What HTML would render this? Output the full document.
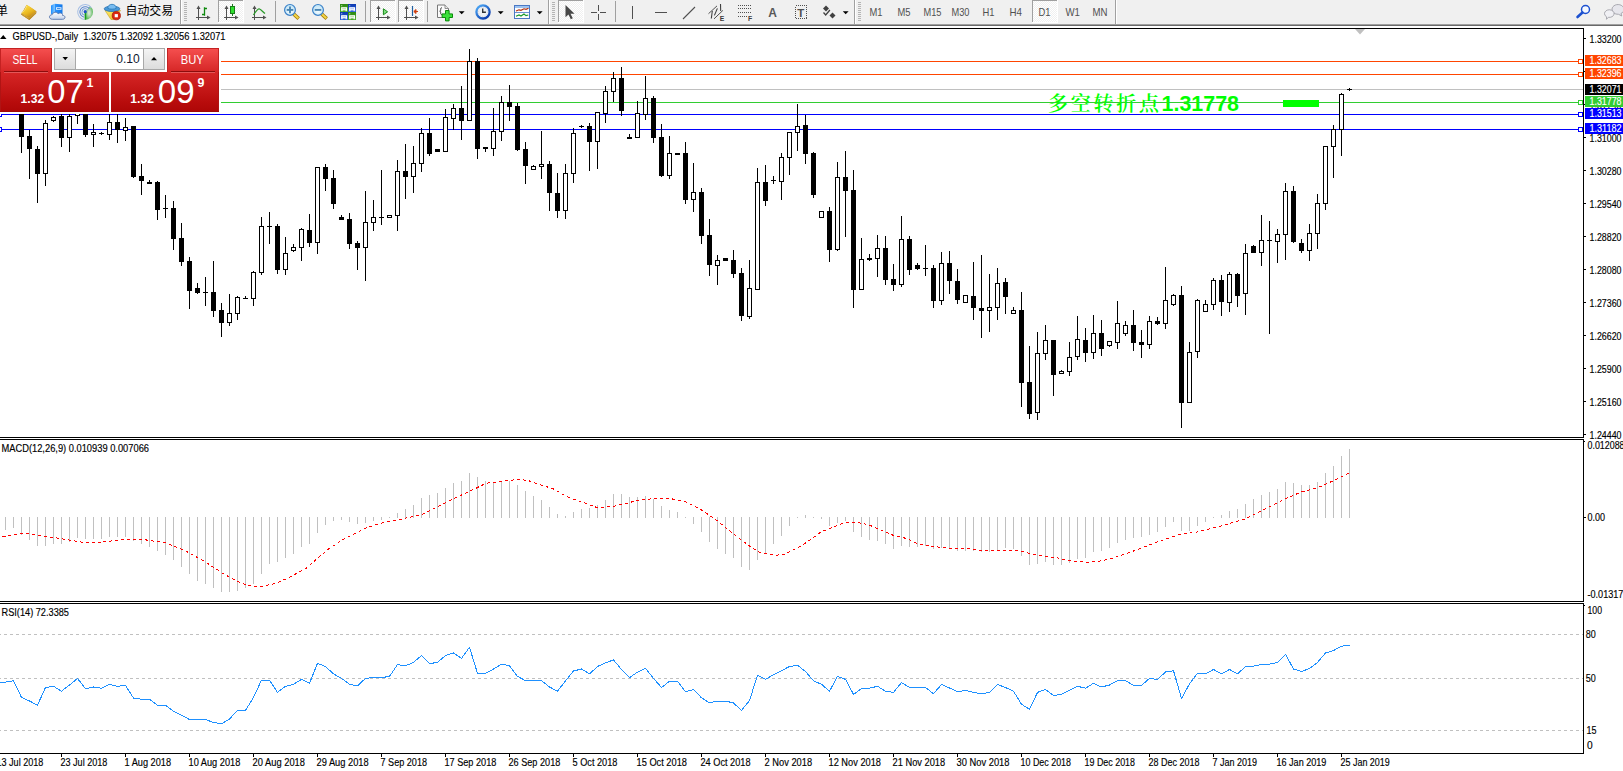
<!DOCTYPE html>
<html lang="zh"><head><meta charset="utf-8"><title>GBPUSD Daily</title>
<style>html,body{margin:0;padding:0;background:#fff;overflow:hidden}body{width:1623px;height:771px}svg{display:block}text{font-family:"Liberation Sans","Noto Sans CJK SC",sans-serif}</style></head>
<body><svg width="1623" height="771" viewBox="0 0 1623 771">
<rect x="0" y="0" width="1623" height="771" fill="#fff"/>
<g shape-rendering="crispEdges">
<rect x="0" y="61" width="1583" height="1" fill="#ff4500"/>
<rect x="0" y="74" width="1583" height="1" fill="#ff4500"/>
<rect x="0" y="89" width="1583" height="1" fill="#c0c0c0"/>
<rect x="0" y="102" width="1583" height="1" fill="#32cd32"/>
<rect x="0" y="114" width="1583" height="1" fill="#0000ff"/>
<rect x="0" y="129" width="1583" height="1" fill="#0000ff"/>
<rect x="1283" y="100" width="36" height="7" fill="#00ff00"/>
<rect x="21" y="137" width="1" height="16" fill="#000"/>
<rect x="19" y="100" width="5" height="37" fill="#000"/>
<rect x="29" y="130" width="1" height="6" fill="#000"/>
<rect x="29" y="149" width="1" height="30" fill="#000"/>
<rect x="27" y="136" width="5" height="13" fill="#000"/>
<rect x="37" y="146" width="1" height="3" fill="#000"/>
<rect x="37" y="174" width="1" height="29" fill="#000"/>
<rect x="35" y="149" width="5" height="25" fill="#000"/>
<rect x="45" y="120" width="1" height="3" fill="#000"/>
<rect x="45" y="174" width="1" height="12" fill="#000"/>
<rect x="43" y="123" width="5" height="51" fill="#000"/>
<rect x="44" y="124" width="3" height="49" fill="#fff"/>
<rect x="53" y="116" width="1" height="1" fill="#000"/>
<rect x="53" y="121" width="1" height="1" fill="#000"/>
<rect x="51" y="117" width="5" height="4" fill="#000"/>
<rect x="52" y="118" width="3" height="2" fill="#fff"/>
<rect x="61" y="110" width="1" height="6" fill="#000"/>
<rect x="61" y="138" width="1" height="9" fill="#000"/>
<rect x="59" y="116" width="5" height="22" fill="#000"/>
<rect x="69" y="114" width="1" height="2" fill="#000"/>
<rect x="69" y="138" width="1" height="14" fill="#000"/>
<rect x="67" y="116" width="5" height="22" fill="#000"/>
<rect x="68" y="117" width="3" height="20" fill="#fff"/>
<rect x="77" y="105" width="1" height="3" fill="#000"/>
<rect x="77" y="116" width="1" height="8" fill="#000"/>
<rect x="75" y="108" width="5" height="8" fill="#000"/>
<rect x="76" y="109" width="3" height="6" fill="#fff"/>
<rect x="85" y="135" width="1" height="2" fill="#000"/>
<rect x="83" y="100" width="5" height="35" fill="#000"/>
<rect x="93" y="124" width="1" height="8" fill="#000"/>
<rect x="93" y="135" width="1" height="12" fill="#000"/>
<rect x="91" y="132" width="5" height="3" fill="#000"/>
<rect x="92" y="133" width="3" height="1" fill="#fff"/>
<rect x="101" y="132" width="1" height="3" fill="#000"/>
<rect x="99" y="133" width="5" height="1" fill="#000"/>
<rect x="109" y="105" width="1" height="17" fill="#000"/>
<rect x="109" y="135" width="1" height="5" fill="#000"/>
<rect x="107" y="122" width="5" height="13" fill="#000"/>
<rect x="108" y="123" width="3" height="11" fill="#fff"/>
<rect x="117" y="105" width="1" height="17" fill="#000"/>
<rect x="117" y="130" width="1" height="13" fill="#000"/>
<rect x="115" y="122" width="5" height="8" fill="#000"/>
<rect x="125" y="118" width="1" height="9" fill="#000"/>
<rect x="125" y="131" width="1" height="10" fill="#000"/>
<rect x="123" y="127" width="5" height="4" fill="#000"/>
<rect x="124" y="128" width="3" height="2" fill="#fff"/>
<rect x="133" y="177" width="1" height="1" fill="#000"/>
<rect x="131" y="126" width="5" height="51" fill="#000"/>
<rect x="141" y="164" width="1" height="12" fill="#000"/>
<rect x="141" y="181" width="1" height="14" fill="#000"/>
<rect x="139" y="176" width="5" height="5" fill="#000"/>
<rect x="149" y="180" width="1" height="2" fill="#000"/>
<rect x="147" y="182" width="5" height="2" fill="#000"/>
<rect x="157" y="181" width="1" height="1" fill="#000"/>
<rect x="157" y="210" width="1" height="10" fill="#000"/>
<rect x="155" y="182" width="5" height="28" fill="#000"/>
<rect x="165" y="195" width="1" height="23" fill="#000"/>
<rect x="163" y="208" width="5" height="1" fill="#000"/>
<rect x="173" y="201" width="1" height="7" fill="#000"/>
<rect x="173" y="239" width="1" height="11" fill="#000"/>
<rect x="171" y="208" width="5" height="31" fill="#000"/>
<rect x="181" y="223" width="1" height="15" fill="#000"/>
<rect x="181" y="262" width="1" height="4" fill="#000"/>
<rect x="179" y="238" width="5" height="24" fill="#000"/>
<rect x="189" y="257" width="1" height="4" fill="#000"/>
<rect x="189" y="291" width="1" height="18" fill="#000"/>
<rect x="187" y="261" width="5" height="30" fill="#000"/>
<rect x="197" y="283" width="1" height="5" fill="#000"/>
<rect x="197" y="293" width="1" height="1" fill="#000"/>
<rect x="195" y="288" width="5" height="5" fill="#000"/>
<rect x="205" y="277" width="1" height="29" fill="#000"/>
<rect x="203" y="292" width="5" height="1" fill="#000"/>
<rect x="213" y="261" width="1" height="31" fill="#000"/>
<rect x="213" y="311" width="1" height="6" fill="#000"/>
<rect x="211" y="292" width="5" height="19" fill="#000"/>
<rect x="221" y="303" width="1" height="7" fill="#000"/>
<rect x="221" y="323" width="1" height="14" fill="#000"/>
<rect x="219" y="310" width="5" height="13" fill="#000"/>
<rect x="229" y="294" width="1" height="19" fill="#000"/>
<rect x="229" y="323" width="1" height="3" fill="#000"/>
<rect x="227" y="313" width="5" height="10" fill="#000"/>
<rect x="228" y="314" width="3" height="8" fill="#fff"/>
<rect x="237" y="296" width="1" height="1" fill="#000"/>
<rect x="237" y="314" width="1" height="6" fill="#000"/>
<rect x="235" y="297" width="5" height="17" fill="#000"/>
<rect x="236" y="298" width="3" height="15" fill="#fff"/>
<rect x="245" y="296" width="1" height="3" fill="#000"/>
<rect x="243" y="298" width="5" height="1" fill="#000"/>
<rect x="253" y="271" width="1" height="1" fill="#000"/>
<rect x="253" y="299" width="1" height="7" fill="#000"/>
<rect x="251" y="272" width="5" height="27" fill="#000"/>
<rect x="252" y="273" width="3" height="25" fill="#fff"/>
<rect x="261" y="217" width="1" height="9" fill="#000"/>
<rect x="261" y="273" width="1" height="2" fill="#000"/>
<rect x="259" y="226" width="5" height="47" fill="#000"/>
<rect x="260" y="227" width="3" height="45" fill="#fff"/>
<rect x="269" y="212" width="1" height="32" fill="#000"/>
<rect x="267" y="226" width="5" height="1" fill="#000"/>
<rect x="277" y="224" width="1" height="2" fill="#000"/>
<rect x="277" y="270" width="1" height="4" fill="#000"/>
<rect x="275" y="226" width="5" height="44" fill="#000"/>
<rect x="285" y="237" width="1" height="16" fill="#000"/>
<rect x="285" y="270" width="1" height="5" fill="#000"/>
<rect x="283" y="253" width="5" height="17" fill="#000"/>
<rect x="284" y="254" width="3" height="15" fill="#fff"/>
<rect x="293" y="244" width="1" height="3" fill="#000"/>
<rect x="293" y="251" width="1" height="1" fill="#000"/>
<rect x="291" y="247" width="5" height="4" fill="#000"/>
<rect x="292" y="248" width="3" height="2" fill="#fff"/>
<rect x="301" y="228" width="1" height="1" fill="#000"/>
<rect x="301" y="248" width="1" height="13" fill="#000"/>
<rect x="299" y="229" width="5" height="19" fill="#000"/>
<rect x="300" y="230" width="3" height="17" fill="#fff"/>
<rect x="309" y="214" width="1" height="16" fill="#000"/>
<rect x="309" y="243" width="1" height="4" fill="#000"/>
<rect x="307" y="230" width="5" height="13" fill="#000"/>
<rect x="317" y="243" width="1" height="11" fill="#000"/>
<rect x="315" y="167" width="5" height="76" fill="#000"/>
<rect x="316" y="168" width="3" height="74" fill="#fff"/>
<rect x="325" y="164" width="1" height="3" fill="#000"/>
<rect x="325" y="179" width="1" height="12" fill="#000"/>
<rect x="323" y="167" width="5" height="12" fill="#000"/>
<rect x="333" y="170" width="1" height="8" fill="#000"/>
<rect x="333" y="204" width="1" height="5" fill="#000"/>
<rect x="331" y="178" width="5" height="26" fill="#000"/>
<rect x="341" y="215" width="1" height="2" fill="#000"/>
<rect x="339" y="217" width="5" height="3" fill="#000"/>
<rect x="349" y="213" width="1" height="6" fill="#000"/>
<rect x="349" y="244" width="1" height="5" fill="#000"/>
<rect x="347" y="219" width="5" height="25" fill="#000"/>
<rect x="357" y="241" width="1" height="2" fill="#000"/>
<rect x="357" y="248" width="1" height="22" fill="#000"/>
<rect x="355" y="243" width="5" height="5" fill="#000"/>
<rect x="365" y="191" width="1" height="31" fill="#000"/>
<rect x="365" y="248" width="1" height="33" fill="#000"/>
<rect x="363" y="222" width="5" height="26" fill="#000"/>
<rect x="364" y="223" width="3" height="24" fill="#fff"/>
<rect x="373" y="200" width="1" height="17" fill="#000"/>
<rect x="373" y="223" width="1" height="8" fill="#000"/>
<rect x="371" y="217" width="5" height="6" fill="#000"/>
<rect x="372" y="218" width="3" height="4" fill="#fff"/>
<rect x="381" y="170" width="1" height="55" fill="#000"/>
<rect x="379" y="217" width="5" height="1" fill="#000"/>
<rect x="387" y="215" width="5" height="3" fill="#000"/>
<rect x="388" y="216" width="3" height="1" fill="#fff"/>
<rect x="397" y="160" width="1" height="11" fill="#000"/>
<rect x="397" y="216" width="1" height="15" fill="#000"/>
<rect x="395" y="171" width="5" height="45" fill="#000"/>
<rect x="396" y="172" width="3" height="43" fill="#fff"/>
<rect x="405" y="144" width="1" height="27" fill="#000"/>
<rect x="405" y="177" width="1" height="22" fill="#000"/>
<rect x="403" y="171" width="5" height="6" fill="#000"/>
<rect x="413" y="146" width="1" height="17" fill="#000"/>
<rect x="413" y="177" width="1" height="16" fill="#000"/>
<rect x="411" y="163" width="5" height="14" fill="#000"/>
<rect x="412" y="164" width="3" height="12" fill="#fff"/>
<rect x="421" y="128" width="1" height="5" fill="#000"/>
<rect x="421" y="164" width="1" height="8" fill="#000"/>
<rect x="419" y="133" width="5" height="31" fill="#000"/>
<rect x="420" y="134" width="3" height="29" fill="#fff"/>
<rect x="429" y="118" width="1" height="15" fill="#000"/>
<rect x="429" y="154" width="1" height="2" fill="#000"/>
<rect x="427" y="133" width="5" height="21" fill="#000"/>
<rect x="435" y="149" width="5" height="3" fill="#000"/>
<rect x="445" y="109" width="1" height="8" fill="#000"/>
<rect x="443" y="117" width="5" height="35" fill="#000"/>
<rect x="444" y="118" width="3" height="33" fill="#fff"/>
<rect x="453" y="104" width="1" height="4" fill="#000"/>
<rect x="453" y="119" width="1" height="11" fill="#000"/>
<rect x="451" y="108" width="5" height="11" fill="#000"/>
<rect x="452" y="109" width="3" height="9" fill="#fff"/>
<rect x="461" y="86" width="1" height="22" fill="#000"/>
<rect x="461" y="121" width="1" height="19" fill="#000"/>
<rect x="459" y="108" width="5" height="13" fill="#000"/>
<rect x="469" y="49" width="1" height="12" fill="#000"/>
<rect x="467" y="61" width="5" height="60" fill="#000"/>
<rect x="468" y="62" width="3" height="58" fill="#fff"/>
<rect x="477" y="58" width="1" height="3" fill="#000"/>
<rect x="477" y="149" width="1" height="10" fill="#000"/>
<rect x="475" y="61" width="5" height="88" fill="#000"/>
<rect x="485" y="149" width="1" height="3" fill="#000"/>
<rect x="483" y="147" width="5" height="2" fill="#000"/>
<rect x="493" y="108" width="1" height="23" fill="#000"/>
<rect x="493" y="149" width="1" height="7" fill="#000"/>
<rect x="491" y="131" width="5" height="18" fill="#000"/>
<rect x="492" y="132" width="3" height="16" fill="#fff"/>
<rect x="501" y="96" width="1" height="6" fill="#000"/>
<rect x="501" y="132" width="1" height="9" fill="#000"/>
<rect x="499" y="102" width="5" height="30" fill="#000"/>
<rect x="500" y="103" width="3" height="28" fill="#fff"/>
<rect x="509" y="85" width="1" height="17" fill="#000"/>
<rect x="509" y="107" width="1" height="14" fill="#000"/>
<rect x="507" y="102" width="5" height="5" fill="#000"/>
<rect x="517" y="103" width="1" height="3" fill="#000"/>
<rect x="517" y="150" width="1" height="1" fill="#000"/>
<rect x="515" y="106" width="5" height="44" fill="#000"/>
<rect x="525" y="142" width="1" height="7" fill="#000"/>
<rect x="525" y="166" width="1" height="18" fill="#000"/>
<rect x="523" y="149" width="5" height="17" fill="#000"/>
<rect x="533" y="165" width="1" height="1" fill="#000"/>
<rect x="531" y="166" width="5" height="4" fill="#000"/>
<rect x="532" y="167" width="3" height="2" fill="#fff"/>
<rect x="541" y="131" width="1" height="33" fill="#000"/>
<rect x="541" y="167" width="1" height="12" fill="#000"/>
<rect x="539" y="164" width="5" height="3" fill="#000"/>
<rect x="540" y="165" width="3" height="1" fill="#fff"/>
<rect x="549" y="161" width="1" height="3" fill="#000"/>
<rect x="549" y="193" width="1" height="18" fill="#000"/>
<rect x="547" y="164" width="5" height="29" fill="#000"/>
<rect x="557" y="173" width="1" height="20" fill="#000"/>
<rect x="557" y="211" width="1" height="7" fill="#000"/>
<rect x="555" y="193" width="5" height="18" fill="#000"/>
<rect x="565" y="164" width="1" height="9" fill="#000"/>
<rect x="565" y="211" width="1" height="8" fill="#000"/>
<rect x="563" y="173" width="5" height="38" fill="#000"/>
<rect x="564" y="174" width="3" height="36" fill="#fff"/>
<rect x="573" y="128" width="1" height="5" fill="#000"/>
<rect x="573" y="174" width="1" height="9" fill="#000"/>
<rect x="571" y="133" width="5" height="41" fill="#000"/>
<rect x="572" y="134" width="3" height="39" fill="#fff"/>
<rect x="581" y="125" width="1" height="3" fill="#000"/>
<rect x="579" y="126" width="5" height="1" fill="#000"/>
<rect x="589" y="123" width="1" height="3" fill="#000"/>
<rect x="589" y="142" width="1" height="29" fill="#000"/>
<rect x="587" y="126" width="5" height="16" fill="#000"/>
<rect x="597" y="142" width="1" height="27" fill="#000"/>
<rect x="595" y="112" width="5" height="30" fill="#000"/>
<rect x="596" y="113" width="3" height="28" fill="#fff"/>
<rect x="605" y="86" width="1" height="5" fill="#000"/>
<rect x="605" y="114" width="1" height="9" fill="#000"/>
<rect x="603" y="91" width="5" height="23" fill="#000"/>
<rect x="604" y="92" width="3" height="21" fill="#fff"/>
<rect x="613" y="72" width="1" height="6" fill="#000"/>
<rect x="613" y="92" width="1" height="10" fill="#000"/>
<rect x="611" y="78" width="5" height="14" fill="#000"/>
<rect x="612" y="79" width="3" height="12" fill="#fff"/>
<rect x="621" y="67" width="1" height="11" fill="#000"/>
<rect x="621" y="111" width="1" height="5" fill="#000"/>
<rect x="619" y="78" width="5" height="33" fill="#000"/>
<rect x="629" y="134" width="1" height="3" fill="#000"/>
<rect x="627" y="137" width="5" height="2" fill="#000"/>
<rect x="637" y="101" width="1" height="12" fill="#000"/>
<rect x="635" y="113" width="5" height="25" fill="#000"/>
<rect x="636" y="114" width="3" height="23" fill="#fff"/>
<rect x="645" y="76" width="1" height="22" fill="#000"/>
<rect x="645" y="115" width="1" height="5" fill="#000"/>
<rect x="643" y="98" width="5" height="17" fill="#000"/>
<rect x="644" y="99" width="3" height="15" fill="#fff"/>
<rect x="653" y="96" width="1" height="2" fill="#000"/>
<rect x="653" y="138" width="1" height="5" fill="#000"/>
<rect x="651" y="98" width="5" height="40" fill="#000"/>
<rect x="661" y="124" width="1" height="13" fill="#000"/>
<rect x="661" y="176" width="1" height="1" fill="#000"/>
<rect x="659" y="137" width="5" height="39" fill="#000"/>
<rect x="669" y="136" width="1" height="17" fill="#000"/>
<rect x="669" y="176" width="1" height="3" fill="#000"/>
<rect x="667" y="153" width="5" height="23" fill="#000"/>
<rect x="668" y="154" width="3" height="21" fill="#fff"/>
<rect x="675" y="153" width="5" height="2" fill="#000"/>
<rect x="685" y="142" width="1" height="11" fill="#000"/>
<rect x="685" y="200" width="1" height="4" fill="#000"/>
<rect x="683" y="153" width="5" height="47" fill="#000"/>
<rect x="693" y="163" width="1" height="29" fill="#000"/>
<rect x="693" y="200" width="1" height="12" fill="#000"/>
<rect x="691" y="192" width="5" height="8" fill="#000"/>
<rect x="692" y="193" width="3" height="6" fill="#fff"/>
<rect x="701" y="188" width="1" height="4" fill="#000"/>
<rect x="701" y="236" width="1" height="8" fill="#000"/>
<rect x="699" y="192" width="5" height="44" fill="#000"/>
<rect x="709" y="219" width="1" height="16" fill="#000"/>
<rect x="709" y="265" width="1" height="11" fill="#000"/>
<rect x="707" y="235" width="5" height="30" fill="#000"/>
<rect x="717" y="255" width="1" height="5" fill="#000"/>
<rect x="717" y="266" width="1" height="19" fill="#000"/>
<rect x="715" y="260" width="5" height="6" fill="#000"/>
<rect x="716" y="261" width="3" height="4" fill="#fff"/>
<rect x="723" y="258" width="5" height="3" fill="#000"/>
<rect x="733" y="250" width="1" height="10" fill="#000"/>
<rect x="733" y="274" width="1" height="4" fill="#000"/>
<rect x="731" y="260" width="5" height="14" fill="#000"/>
<rect x="741" y="268" width="1" height="5" fill="#000"/>
<rect x="741" y="316" width="1" height="5" fill="#000"/>
<rect x="739" y="273" width="5" height="43" fill="#000"/>
<rect x="749" y="260" width="1" height="28" fill="#000"/>
<rect x="749" y="317" width="1" height="2" fill="#000"/>
<rect x="747" y="288" width="5" height="29" fill="#000"/>
<rect x="748" y="289" width="3" height="27" fill="#fff"/>
<rect x="757" y="168" width="1" height="14" fill="#000"/>
<rect x="755" y="182" width="5" height="108" fill="#000"/>
<rect x="756" y="183" width="3" height="106" fill="#fff"/>
<rect x="765" y="165" width="1" height="17" fill="#000"/>
<rect x="765" y="201" width="1" height="5" fill="#000"/>
<rect x="763" y="182" width="5" height="19" fill="#000"/>
<rect x="773" y="176" width="1" height="8" fill="#000"/>
<rect x="771" y="180" width="5" height="1" fill="#000"/>
<rect x="781" y="153" width="1" height="4" fill="#000"/>
<rect x="781" y="182" width="1" height="18" fill="#000"/>
<rect x="779" y="157" width="5" height="25" fill="#000"/>
<rect x="780" y="158" width="3" height="23" fill="#fff"/>
<rect x="789" y="158" width="1" height="17" fill="#000"/>
<rect x="787" y="132" width="5" height="26" fill="#000"/>
<rect x="788" y="133" width="3" height="24" fill="#fff"/>
<rect x="797" y="104" width="1" height="22" fill="#000"/>
<rect x="797" y="133" width="1" height="18" fill="#000"/>
<rect x="795" y="126" width="5" height="7" fill="#000"/>
<rect x="796" y="127" width="3" height="5" fill="#fff"/>
<rect x="805" y="115" width="1" height="10" fill="#000"/>
<rect x="805" y="154" width="1" height="10" fill="#000"/>
<rect x="803" y="125" width="5" height="29" fill="#000"/>
<rect x="813" y="152" width="1" height="1" fill="#000"/>
<rect x="813" y="195" width="1" height="3" fill="#000"/>
<rect x="811" y="153" width="5" height="42" fill="#000"/>
<rect x="819" y="211" width="5" height="7" fill="#000"/>
<rect x="820" y="212" width="3" height="5" fill="#fff"/>
<rect x="829" y="207" width="1" height="4" fill="#000"/>
<rect x="829" y="250" width="1" height="12" fill="#000"/>
<rect x="827" y="211" width="5" height="39" fill="#000"/>
<rect x="837" y="162" width="1" height="15" fill="#000"/>
<rect x="837" y="250" width="1" height="1" fill="#000"/>
<rect x="835" y="177" width="5" height="73" fill="#000"/>
<rect x="836" y="178" width="3" height="71" fill="#fff"/>
<rect x="845" y="151" width="1" height="26" fill="#000"/>
<rect x="845" y="191" width="1" height="46" fill="#000"/>
<rect x="843" y="177" width="5" height="14" fill="#000"/>
<rect x="853" y="170" width="1" height="20" fill="#000"/>
<rect x="853" y="290" width="1" height="18" fill="#000"/>
<rect x="851" y="190" width="5" height="100" fill="#000"/>
<rect x="861" y="238" width="1" height="21" fill="#000"/>
<rect x="859" y="259" width="5" height="31" fill="#000"/>
<rect x="860" y="260" width="3" height="29" fill="#fff"/>
<rect x="869" y="254" width="1" height="4" fill="#000"/>
<rect x="869" y="260" width="1" height="1" fill="#000"/>
<rect x="867" y="258" width="5" height="2" fill="#000"/>
<rect x="877" y="235" width="1" height="13" fill="#000"/>
<rect x="877" y="259" width="1" height="18" fill="#000"/>
<rect x="875" y="248" width="5" height="11" fill="#000"/>
<rect x="876" y="249" width="3" height="9" fill="#fff"/>
<rect x="885" y="236" width="1" height="12" fill="#000"/>
<rect x="885" y="280" width="1" height="5" fill="#000"/>
<rect x="883" y="248" width="5" height="32" fill="#000"/>
<rect x="893" y="264" width="1" height="15" fill="#000"/>
<rect x="893" y="285" width="1" height="6" fill="#000"/>
<rect x="891" y="279" width="5" height="6" fill="#000"/>
<rect x="901" y="216" width="1" height="23" fill="#000"/>
<rect x="901" y="285" width="1" height="2" fill="#000"/>
<rect x="899" y="239" width="5" height="46" fill="#000"/>
<rect x="900" y="240" width="3" height="44" fill="#fff"/>
<rect x="909" y="236" width="1" height="3" fill="#000"/>
<rect x="909" y="270" width="1" height="5" fill="#000"/>
<rect x="907" y="239" width="5" height="31" fill="#000"/>
<rect x="917" y="263" width="1" height="2" fill="#000"/>
<rect x="917" y="269" width="1" height="1" fill="#000"/>
<rect x="915" y="265" width="5" height="4" fill="#000"/>
<rect x="925" y="245" width="1" height="31" fill="#000"/>
<rect x="923" y="268" width="5" height="1" fill="#000"/>
<rect x="933" y="265" width="1" height="3" fill="#000"/>
<rect x="933" y="301" width="1" height="7" fill="#000"/>
<rect x="931" y="268" width="5" height="33" fill="#000"/>
<rect x="941" y="252" width="1" height="11" fill="#000"/>
<rect x="941" y="301" width="1" height="4" fill="#000"/>
<rect x="939" y="263" width="5" height="38" fill="#000"/>
<rect x="940" y="264" width="3" height="36" fill="#fff"/>
<rect x="949" y="251" width="1" height="12" fill="#000"/>
<rect x="949" y="281" width="1" height="13" fill="#000"/>
<rect x="947" y="263" width="5" height="18" fill="#000"/>
<rect x="957" y="269" width="1" height="12" fill="#000"/>
<rect x="957" y="300" width="1" height="4" fill="#000"/>
<rect x="955" y="281" width="5" height="19" fill="#000"/>
<rect x="963" y="295" width="5" height="8" fill="#000"/>
<rect x="964" y="296" width="3" height="6" fill="#fff"/>
<rect x="973" y="262" width="1" height="34" fill="#000"/>
<rect x="973" y="308" width="1" height="12" fill="#000"/>
<rect x="971" y="296" width="5" height="12" fill="#000"/>
<rect x="981" y="255" width="1" height="53" fill="#000"/>
<rect x="981" y="311" width="1" height="27" fill="#000"/>
<rect x="979" y="308" width="5" height="3" fill="#000"/>
<rect x="989" y="274" width="1" height="33" fill="#000"/>
<rect x="989" y="311" width="1" height="21" fill="#000"/>
<rect x="987" y="307" width="5" height="4" fill="#000"/>
<rect x="988" y="308" width="3" height="2" fill="#fff"/>
<rect x="997" y="268" width="1" height="15" fill="#000"/>
<rect x="997" y="308" width="1" height="12" fill="#000"/>
<rect x="995" y="283" width="5" height="25" fill="#000"/>
<rect x="996" y="284" width="3" height="23" fill="#fff"/>
<rect x="1005" y="278" width="1" height="4" fill="#000"/>
<rect x="1005" y="297" width="1" height="17" fill="#000"/>
<rect x="1003" y="282" width="5" height="15" fill="#000"/>
<rect x="1013" y="307" width="1" height="3" fill="#000"/>
<rect x="1011" y="310" width="5" height="4" fill="#000"/>
<rect x="1012" y="311" width="3" height="2" fill="#fff"/>
<rect x="1021" y="292" width="1" height="18" fill="#000"/>
<rect x="1021" y="383" width="1" height="24" fill="#000"/>
<rect x="1019" y="310" width="5" height="73" fill="#000"/>
<rect x="1029" y="346" width="1" height="36" fill="#000"/>
<rect x="1029" y="414" width="1" height="5" fill="#000"/>
<rect x="1027" y="382" width="5" height="32" fill="#000"/>
<rect x="1037" y="332" width="1" height="21" fill="#000"/>
<rect x="1037" y="413" width="1" height="7" fill="#000"/>
<rect x="1035" y="353" width="5" height="60" fill="#000"/>
<rect x="1036" y="354" width="3" height="58" fill="#fff"/>
<rect x="1045" y="325" width="1" height="15" fill="#000"/>
<rect x="1045" y="354" width="1" height="6" fill="#000"/>
<rect x="1043" y="340" width="5" height="14" fill="#000"/>
<rect x="1044" y="341" width="3" height="12" fill="#fff"/>
<rect x="1053" y="375" width="1" height="21" fill="#000"/>
<rect x="1051" y="340" width="5" height="35" fill="#000"/>
<rect x="1061" y="370" width="1" height="1" fill="#000"/>
<rect x="1059" y="371" width="5" height="3" fill="#000"/>
<rect x="1060" y="372" width="3" height="1" fill="#fff"/>
<rect x="1069" y="342" width="1" height="15" fill="#000"/>
<rect x="1069" y="372" width="1" height="4" fill="#000"/>
<rect x="1067" y="357" width="5" height="15" fill="#000"/>
<rect x="1068" y="358" width="3" height="13" fill="#fff"/>
<rect x="1077" y="316" width="1" height="23" fill="#000"/>
<rect x="1077" y="357" width="1" height="3" fill="#000"/>
<rect x="1075" y="339" width="5" height="18" fill="#000"/>
<rect x="1076" y="340" width="3" height="16" fill="#fff"/>
<rect x="1085" y="328" width="1" height="12" fill="#000"/>
<rect x="1085" y="353" width="1" height="9" fill="#000"/>
<rect x="1083" y="340" width="5" height="13" fill="#000"/>
<rect x="1093" y="315" width="1" height="18" fill="#000"/>
<rect x="1093" y="353" width="1" height="6" fill="#000"/>
<rect x="1091" y="333" width="5" height="20" fill="#000"/>
<rect x="1092" y="334" width="3" height="18" fill="#fff"/>
<rect x="1101" y="320" width="1" height="13" fill="#000"/>
<rect x="1101" y="349" width="1" height="7" fill="#000"/>
<rect x="1099" y="333" width="5" height="16" fill="#000"/>
<rect x="1109" y="346" width="1" height="1" fill="#000"/>
<rect x="1107" y="341" width="5" height="5" fill="#000"/>
<rect x="1108" y="342" width="3" height="3" fill="#fff"/>
<rect x="1117" y="301" width="1" height="22" fill="#000"/>
<rect x="1117" y="343" width="1" height="6" fill="#000"/>
<rect x="1115" y="323" width="5" height="20" fill="#000"/>
<rect x="1116" y="324" width="3" height="18" fill="#fff"/>
<rect x="1125" y="321" width="1" height="4" fill="#000"/>
<rect x="1125" y="334" width="1" height="2" fill="#000"/>
<rect x="1123" y="325" width="5" height="9" fill="#000"/>
<rect x="1124" y="326" width="3" height="7" fill="#fff"/>
<rect x="1133" y="310" width="1" height="15" fill="#000"/>
<rect x="1133" y="343" width="1" height="8" fill="#000"/>
<rect x="1131" y="325" width="5" height="18" fill="#000"/>
<rect x="1141" y="330" width="1" height="12" fill="#000"/>
<rect x="1141" y="345" width="1" height="13" fill="#000"/>
<rect x="1139" y="342" width="5" height="3" fill="#000"/>
<rect x="1149" y="316" width="1" height="5" fill="#000"/>
<rect x="1149" y="345" width="1" height="4" fill="#000"/>
<rect x="1147" y="321" width="5" height="24" fill="#000"/>
<rect x="1148" y="322" width="3" height="22" fill="#fff"/>
<rect x="1157" y="317" width="1" height="4" fill="#000"/>
<rect x="1157" y="324" width="1" height="1" fill="#000"/>
<rect x="1155" y="321" width="5" height="3" fill="#000"/>
<rect x="1165" y="267" width="1" height="33" fill="#000"/>
<rect x="1165" y="324" width="1" height="5" fill="#000"/>
<rect x="1163" y="300" width="5" height="24" fill="#000"/>
<rect x="1164" y="301" width="3" height="22" fill="#fff"/>
<rect x="1173" y="294" width="1" height="1" fill="#000"/>
<rect x="1173" y="305" width="1" height="1" fill="#000"/>
<rect x="1171" y="295" width="5" height="10" fill="#000"/>
<rect x="1172" y="296" width="3" height="8" fill="#fff"/>
<rect x="1181" y="286" width="1" height="9" fill="#000"/>
<rect x="1181" y="403" width="1" height="25" fill="#000"/>
<rect x="1179" y="295" width="5" height="108" fill="#000"/>
<rect x="1189" y="342" width="1" height="10" fill="#000"/>
<rect x="1187" y="352" width="5" height="51" fill="#000"/>
<rect x="1188" y="353" width="3" height="49" fill="#fff"/>
<rect x="1197" y="299" width="1" height="1" fill="#000"/>
<rect x="1197" y="352" width="1" height="6" fill="#000"/>
<rect x="1195" y="300" width="5" height="52" fill="#000"/>
<rect x="1196" y="301" width="3" height="50" fill="#fff"/>
<rect x="1205" y="300" width="1" height="4" fill="#000"/>
<rect x="1203" y="304" width="5" height="8" fill="#000"/>
<rect x="1204" y="305" width="3" height="6" fill="#fff"/>
<rect x="1213" y="278" width="1" height="2" fill="#000"/>
<rect x="1213" y="305" width="1" height="5" fill="#000"/>
<rect x="1211" y="280" width="5" height="25" fill="#000"/>
<rect x="1212" y="281" width="3" height="23" fill="#fff"/>
<rect x="1221" y="275" width="1" height="5" fill="#000"/>
<rect x="1221" y="302" width="1" height="14" fill="#000"/>
<rect x="1219" y="280" width="5" height="22" fill="#000"/>
<rect x="1229" y="272" width="1" height="2" fill="#000"/>
<rect x="1229" y="303" width="1" height="9" fill="#000"/>
<rect x="1227" y="274" width="5" height="29" fill="#000"/>
<rect x="1228" y="275" width="3" height="27" fill="#fff"/>
<rect x="1237" y="273" width="1" height="1" fill="#000"/>
<rect x="1237" y="296" width="1" height="11" fill="#000"/>
<rect x="1235" y="274" width="5" height="22" fill="#000"/>
<rect x="1245" y="244" width="1" height="9" fill="#000"/>
<rect x="1245" y="294" width="1" height="21" fill="#000"/>
<rect x="1243" y="253" width="5" height="41" fill="#000"/>
<rect x="1244" y="254" width="3" height="39" fill="#fff"/>
<rect x="1253" y="245" width="1" height="1" fill="#000"/>
<rect x="1251" y="246" width="5" height="7" fill="#000"/>
<rect x="1261" y="215" width="1" height="25" fill="#000"/>
<rect x="1261" y="253" width="1" height="13" fill="#000"/>
<rect x="1259" y="240" width="5" height="13" fill="#000"/>
<rect x="1260" y="241" width="3" height="11" fill="#fff"/>
<rect x="1269" y="221" width="1" height="113" fill="#000"/>
<rect x="1267" y="240" width="5" height="1" fill="#000"/>
<rect x="1277" y="229" width="1" height="5" fill="#000"/>
<rect x="1277" y="242" width="1" height="21" fill="#000"/>
<rect x="1275" y="234" width="5" height="8" fill="#000"/>
<rect x="1276" y="235" width="3" height="6" fill="#fff"/>
<rect x="1285" y="183" width="1" height="8" fill="#000"/>
<rect x="1285" y="235" width="1" height="25" fill="#000"/>
<rect x="1283" y="191" width="5" height="44" fill="#000"/>
<rect x="1284" y="192" width="3" height="42" fill="#fff"/>
<rect x="1293" y="186" width="1" height="5" fill="#000"/>
<rect x="1293" y="242" width="1" height="1" fill="#000"/>
<rect x="1291" y="191" width="5" height="51" fill="#000"/>
<rect x="1301" y="239" width="1" height="4" fill="#000"/>
<rect x="1301" y="251" width="1" height="2" fill="#000"/>
<rect x="1299" y="243" width="5" height="8" fill="#000"/>
<rect x="1309" y="224" width="1" height="9" fill="#000"/>
<rect x="1309" y="251" width="1" height="10" fill="#000"/>
<rect x="1307" y="233" width="5" height="18" fill="#000"/>
<rect x="1308" y="234" width="3" height="16" fill="#fff"/>
<rect x="1317" y="194" width="1" height="9" fill="#000"/>
<rect x="1317" y="234" width="1" height="15" fill="#000"/>
<rect x="1315" y="203" width="5" height="31" fill="#000"/>
<rect x="1316" y="204" width="3" height="29" fill="#fff"/>
<rect x="1325" y="204" width="1" height="6" fill="#000"/>
<rect x="1323" y="146" width="5" height="58" fill="#000"/>
<rect x="1324" y="147" width="3" height="56" fill="#fff"/>
<rect x="1333" y="125" width="1" height="4" fill="#000"/>
<rect x="1333" y="147" width="1" height="31" fill="#000"/>
<rect x="1331" y="129" width="5" height="18" fill="#000"/>
<rect x="1332" y="130" width="3" height="16" fill="#fff"/>
<rect x="1341" y="93" width="1" height="1" fill="#000"/>
<rect x="1341" y="130" width="1" height="26" fill="#000"/>
<rect x="1339" y="94" width="5" height="36" fill="#000"/>
<rect x="1340" y="95" width="3" height="34" fill="#fff"/>
<rect x="1349" y="88" width="1" height="3" fill="#000"/>
<rect x="1347" y="89" width="5" height="1" fill="#000"/>
</g>
<text x="1048" y="111" fill="#00ff00"><tspan font-size="20" font-weight="600" font-family="'Liberation Serif','Noto Serif CJK SC',serif" textLength="111" lengthAdjust="spacing">多空转折点</tspan><tspan x="1161.5" font-weight="bold" font-family="'Liberation Sans',sans-serif" font-size="21.5" textLength="77.5" lengthAdjust="spacingAndGlyphs">1.31778</tspan></text>
<g shape-rendering="crispEdges">
<rect x="1040" y="102" width="200" height="1" fill="#32cd32" opacity="0.55"/>
<rect x="1578.5" y="59.5" width="4" height="4" fill="#fff" stroke="#ff4500" stroke-width="1"/>
<rect x="1578.5" y="72.5" width="4" height="4" fill="#fff" stroke="#ff4500" stroke-width="1"/>
<rect x="1578.5" y="100.5" width="4" height="4" fill="#fff" stroke="#32cd32" stroke-width="1"/>
<rect x="1578.5" y="112.5" width="4" height="4" fill="#fff" stroke="#0000ff" stroke-width="1"/>
<rect x="1578.5" y="127.5" width="4" height="4" fill="#fff" stroke="#0000ff" stroke-width="1"/>
<rect x="-2.5" y="112.5" width="4" height="4" fill="#fff" stroke="#0000ff" stroke-width="1"/>
<rect x="-2.5" y="127.5" width="4" height="4" fill="#fff" stroke="#0000ff" stroke-width="1"/>
<polygon points="1355,29 1365,29 1360,34.5" fill="#c0c0c0" shape-rendering="auto"/>
<rect x="5" y="517" width="1" height="13" fill="#c0c0c0"/>
<rect x="13" y="517" width="1" height="11" fill="#c0c0c0"/>
<rect x="21" y="517" width="1" height="18" fill="#c0c0c0"/>
<rect x="29" y="517" width="1" height="23" fill="#c0c0c0"/>
<rect x="37" y="517" width="1" height="29" fill="#c0c0c0"/>
<rect x="45" y="517" width="1" height="29" fill="#c0c0c0"/>
<rect x="53" y="517" width="1" height="27" fill="#c0c0c0"/>
<rect x="61" y="517" width="1" height="27" fill="#c0c0c0"/>
<rect x="69" y="517" width="1" height="25" fill="#c0c0c0"/>
<rect x="77" y="517" width="1" height="21" fill="#c0c0c0"/>
<rect x="85" y="517" width="1" height="22" fill="#c0c0c0"/>
<rect x="93" y="517" width="1" height="22" fill="#c0c0c0"/>
<rect x="101" y="517" width="1" height="22" fill="#c0c0c0"/>
<rect x="109" y="517" width="1" height="20" fill="#c0c0c0"/>
<rect x="117" y="517" width="1" height="20" fill="#c0c0c0"/>
<rect x="125" y="517" width="1" height="20" fill="#c0c0c0"/>
<rect x="133" y="517" width="1" height="24" fill="#c0c0c0"/>
<rect x="141" y="517" width="1" height="27" fill="#c0c0c0"/>
<rect x="149" y="517" width="1" height="30" fill="#c0c0c0"/>
<rect x="157" y="517" width="1" height="34" fill="#c0c0c0"/>
<rect x="165" y="517" width="1" height="38" fill="#c0c0c0"/>
<rect x="173" y="517" width="1" height="43" fill="#c0c0c0"/>
<rect x="181" y="517" width="1" height="50" fill="#c0c0c0"/>
<rect x="189" y="517" width="1" height="57" fill="#c0c0c0"/>
<rect x="197" y="517" width="1" height="64" fill="#c0c0c0"/>
<rect x="205" y="517" width="1" height="67" fill="#c0c0c0"/>
<rect x="213" y="517" width="1" height="71" fill="#c0c0c0"/>
<rect x="221" y="517" width="1" height="75" fill="#c0c0c0"/>
<rect x="229" y="517" width="1" height="75" fill="#c0c0c0"/>
<rect x="237" y="517" width="1" height="74" fill="#c0c0c0"/>
<rect x="245" y="517" width="1" height="71" fill="#c0c0c0"/>
<rect x="253" y="517" width="1" height="67" fill="#c0c0c0"/>
<rect x="261" y="517" width="1" height="57" fill="#c0c0c0"/>
<rect x="269" y="517" width="1" height="47" fill="#c0c0c0"/>
<rect x="277" y="517" width="1" height="45" fill="#c0c0c0"/>
<rect x="285" y="517" width="1" height="41" fill="#c0c0c0"/>
<rect x="293" y="517" width="1" height="37" fill="#c0c0c0"/>
<rect x="301" y="517" width="1" height="30" fill="#c0c0c0"/>
<rect x="309" y="517" width="1" height="27" fill="#c0c0c0"/>
<rect x="317" y="517" width="1" height="16" fill="#c0c0c0"/>
<rect x="325" y="517" width="1" height="8" fill="#c0c0c0"/>
<rect x="333" y="517" width="1" height="4" fill="#c0c0c0"/>
<rect x="341" y="517" width="1" height="3" fill="#c0c0c0"/>
<rect x="349" y="517" width="1" height="5" fill="#c0c0c0"/>
<rect x="357" y="517" width="1" height="7" fill="#c0c0c0"/>
<rect x="365" y="517" width="1" height="6" fill="#c0c0c0"/>
<rect x="373" y="517" width="1" height="4" fill="#c0c0c0"/>
<rect x="381" y="517" width="1" height="3" fill="#c0c0c0"/>
<rect x="389" y="517" width="1" height="1" fill="#c0c0c0"/>
<rect x="397" y="513" width="1" height="5" fill="#c0c0c0"/>
<rect x="405" y="509" width="1" height="9" fill="#c0c0c0"/>
<rect x="413" y="505" width="1" height="13" fill="#c0c0c0"/>
<rect x="421" y="498" width="1" height="20" fill="#c0c0c0"/>
<rect x="429" y="495" width="1" height="23" fill="#c0c0c0"/>
<rect x="437" y="493" width="1" height="25" fill="#c0c0c0"/>
<rect x="445" y="488" width="1" height="30" fill="#c0c0c0"/>
<rect x="453" y="483" width="1" height="35" fill="#c0c0c0"/>
<rect x="461" y="481" width="1" height="37" fill="#c0c0c0"/>
<rect x="469" y="473" width="1" height="45" fill="#c0c0c0"/>
<rect x="477" y="477" width="1" height="41" fill="#c0c0c0"/>
<rect x="485" y="481" width="1" height="37" fill="#c0c0c0"/>
<rect x="493" y="483" width="1" height="35" fill="#c0c0c0"/>
<rect x="501" y="481" width="1" height="37" fill="#c0c0c0"/>
<rect x="509" y="481" width="1" height="37" fill="#c0c0c0"/>
<rect x="517" y="485" width="1" height="33" fill="#c0c0c0"/>
<rect x="525" y="491" width="1" height="27" fill="#c0c0c0"/>
<rect x="533" y="496" width="1" height="22" fill="#c0c0c0"/>
<rect x="541" y="500" width="1" height="18" fill="#c0c0c0"/>
<rect x="549" y="507" width="1" height="11" fill="#c0c0c0"/>
<rect x="557" y="514" width="1" height="4" fill="#c0c0c0"/>
<rect x="565" y="516" width="1" height="2" fill="#c0c0c0"/>
<rect x="573" y="512" width="1" height="6" fill="#c0c0c0"/>
<rect x="581" y="509" width="1" height="9" fill="#c0c0c0"/>
<rect x="589" y="508" width="1" height="10" fill="#c0c0c0"/>
<rect x="597" y="505" width="1" height="13" fill="#c0c0c0"/>
<rect x="605" y="500" width="1" height="18" fill="#c0c0c0"/>
<rect x="613" y="494" width="1" height="24" fill="#c0c0c0"/>
<rect x="621" y="494" width="1" height="24" fill="#c0c0c0"/>
<rect x="629" y="497" width="1" height="21" fill="#c0c0c0"/>
<rect x="637" y="497" width="1" height="21" fill="#c0c0c0"/>
<rect x="645" y="496" width="1" height="22" fill="#c0c0c0"/>
<rect x="653" y="499" width="1" height="19" fill="#c0c0c0"/>
<rect x="661" y="506" width="1" height="12" fill="#c0c0c0"/>
<rect x="669" y="510" width="1" height="8" fill="#c0c0c0"/>
<rect x="677" y="512" width="1" height="6" fill="#c0c0c0"/>
<rect x="685" y="517" width="1" height="1" fill="#c0c0c0"/>
<rect x="693" y="517" width="1" height="7" fill="#c0c0c0"/>
<rect x="701" y="517" width="1" height="15" fill="#c0c0c0"/>
<rect x="709" y="517" width="1" height="25" fill="#c0c0c0"/>
<rect x="717" y="517" width="1" height="32" fill="#c0c0c0"/>
<rect x="725" y="517" width="1" height="37" fill="#c0c0c0"/>
<rect x="733" y="517" width="1" height="41" fill="#c0c0c0"/>
<rect x="741" y="517" width="1" height="50" fill="#c0c0c0"/>
<rect x="749" y="517" width="1" height="53" fill="#c0c0c0"/>
<rect x="757" y="517" width="1" height="43" fill="#c0c0c0"/>
<rect x="765" y="517" width="1" height="36" fill="#c0c0c0"/>
<rect x="773" y="517" width="1" height="27" fill="#c0c0c0"/>
<rect x="781" y="517" width="1" height="19" fill="#c0c0c0"/>
<rect x="789" y="517" width="1" height="9" fill="#c0c0c0"/>
<rect x="797" y="517" width="1" height="1" fill="#c0c0c0"/>
<rect x="805" y="515" width="1" height="3" fill="#c0c0c0"/>
<rect x="813" y="517" width="1" height="1" fill="#c0c0c0"/>
<rect x="821" y="517" width="1" height="2" fill="#c0c0c0"/>
<rect x="829" y="517" width="1" height="9" fill="#c0c0c0"/>
<rect x="837" y="517" width="1" height="6" fill="#c0c0c0"/>
<rect x="845" y="517" width="1" height="4" fill="#c0c0c0"/>
<rect x="853" y="517" width="1" height="15" fill="#c0c0c0"/>
<rect x="861" y="517" width="1" height="20" fill="#c0c0c0"/>
<rect x="869" y="517" width="1" height="23" fill="#c0c0c0"/>
<rect x="877" y="517" width="1" height="24" fill="#c0c0c0"/>
<rect x="885" y="517" width="1" height="27" fill="#c0c0c0"/>
<rect x="893" y="517" width="1" height="32" fill="#c0c0c0"/>
<rect x="901" y="517" width="1" height="29" fill="#c0c0c0"/>
<rect x="909" y="517" width="1" height="30" fill="#c0c0c0"/>
<rect x="917" y="517" width="1" height="30" fill="#c0c0c0"/>
<rect x="925" y="517" width="1" height="29" fill="#c0c0c0"/>
<rect x="933" y="517" width="1" height="32" fill="#c0c0c0"/>
<rect x="941" y="517" width="1" height="31" fill="#c0c0c0"/>
<rect x="949" y="517" width="1" height="32" fill="#c0c0c0"/>
<rect x="957" y="517" width="1" height="34" fill="#c0c0c0"/>
<rect x="965" y="517" width="1" height="34" fill="#c0c0c0"/>
<rect x="973" y="517" width="1" height="34" fill="#c0c0c0"/>
<rect x="981" y="517" width="1" height="35" fill="#c0c0c0"/>
<rect x="989" y="517" width="1" height="35" fill="#c0c0c0"/>
<rect x="997" y="517" width="1" height="34" fill="#c0c0c0"/>
<rect x="1005" y="517" width="1" height="31" fill="#c0c0c0"/>
<rect x="1013" y="517" width="1" height="32" fill="#c0c0c0"/>
<rect x="1021" y="517" width="1" height="39" fill="#c0c0c0"/>
<rect x="1029" y="517" width="1" height="48" fill="#c0c0c0"/>
<rect x="1037" y="517" width="1" height="47" fill="#c0c0c0"/>
<rect x="1045" y="517" width="1" height="45" fill="#c0c0c0"/>
<rect x="1053" y="517" width="1" height="48" fill="#c0c0c0"/>
<rect x="1061" y="517" width="1" height="48" fill="#c0c0c0"/>
<rect x="1069" y="517" width="1" height="46" fill="#c0c0c0"/>
<rect x="1077" y="517" width="1" height="42" fill="#c0c0c0"/>
<rect x="1085" y="517" width="1" height="41" fill="#c0c0c0"/>
<rect x="1093" y="517" width="1" height="35" fill="#c0c0c0"/>
<rect x="1101" y="517" width="1" height="34" fill="#c0c0c0"/>
<rect x="1109" y="517" width="1" height="31" fill="#c0c0c0"/>
<rect x="1117" y="517" width="1" height="26" fill="#c0c0c0"/>
<rect x="1125" y="517" width="1" height="23" fill="#c0c0c0"/>
<rect x="1133" y="517" width="1" height="21" fill="#c0c0c0"/>
<rect x="1141" y="517" width="1" height="20" fill="#c0c0c0"/>
<rect x="1149" y="517" width="1" height="18" fill="#c0c0c0"/>
<rect x="1157" y="517" width="1" height="15" fill="#c0c0c0"/>
<rect x="1165" y="517" width="1" height="10" fill="#c0c0c0"/>
<rect x="1173" y="517" width="1" height="5" fill="#c0c0c0"/>
<rect x="1181" y="517" width="1" height="14" fill="#c0c0c0"/>
<rect x="1189" y="517" width="1" height="14" fill="#c0c0c0"/>
<rect x="1197" y="517" width="1" height="9" fill="#c0c0c0"/>
<rect x="1205" y="517" width="1" height="5" fill="#c0c0c0"/>
<rect x="1213" y="517" width="1" height="1" fill="#c0c0c0"/>
<rect x="1221" y="515" width="1" height="3" fill="#c0c0c0"/>
<rect x="1229" y="511" width="1" height="7" fill="#c0c0c0"/>
<rect x="1237" y="509" width="1" height="9" fill="#c0c0c0"/>
<rect x="1245" y="504" width="1" height="14" fill="#c0c0c0"/>
<rect x="1253" y="499" width="1" height="19" fill="#c0c0c0"/>
<rect x="1261" y="495" width="1" height="23" fill="#c0c0c0"/>
<rect x="1269" y="492" width="1" height="26" fill="#c0c0c0"/>
<rect x="1277" y="489" width="1" height="29" fill="#c0c0c0"/>
<rect x="1285" y="482" width="1" height="36" fill="#c0c0c0"/>
<rect x="1293" y="483" width="1" height="35" fill="#c0c0c0"/>
<rect x="1301" y="485" width="1" height="33" fill="#c0c0c0"/>
<rect x="1309" y="485" width="1" height="33" fill="#c0c0c0"/>
<rect x="1317" y="482" width="1" height="36" fill="#c0c0c0"/>
<rect x="1325" y="473" width="1" height="45" fill="#c0c0c0"/>
<rect x="1333" y="466" width="1" height="52" fill="#c0c0c0"/>
<rect x="1341" y="456" width="1" height="62" fill="#c0c0c0"/>
<rect x="1349" y="449" width="1" height="69" fill="#c0c0c0"/>
</g>
<polyline points="2.5,536.6 22.0,533.6 30.0,533.6 42.0,535.8 62.0,538.8 84.0,542.5 99.0,542.5 123.0,539.5 143.0,539.5 165.0,542.7 185.0,550.6 205.0,561.7 222.0,572.8 237.0,581.4 249.0,585.8 261.0,586.3 274.0,583.9 288.0,578.2 306.0,568.3 328.0,549.4 345.0,538.3 365.0,528.4 380.0,523.5 394.8,520.5 412.0,516.8 424.4,513.6 441.6,504.5 461.3,495.1 478.6,487.0 486.0,483.3 503.2,481.1 518.0,479.4 527.9,480.4 540.2,484.8 552.5,488.5 567.3,496.9 584.6,503.0 596.9,507.5 611.7,506.7 626.5,503.3 638.8,500.1 653.6,498.6 670.8,498.6 685.6,502.0 700.4,509.2 717.6,521.0 734.9,535.1 749.7,546.2 759.5,552.3 774.8,555.3 784.6,554.3 801.9,545.7 821.6,531.6 843.8,522.8 858.6,522.8 868.4,524.7 893.1,535.3 907.9,538.8 917.7,543.7 932.5,546.4 947.3,548.1 967.0,548.6 981.8,550.4 1016.3,550.4 1031.1,553.6 1043.4,556.3 1055.7,557.5 1068.1,560.5 1085.3,562.2 1097.6,561.7 1114.9,557.5 1134.6,550.6 1157.3,542.0 1179.4,534.6 1196.7,532.1 1221.3,526.0 1246.0,518.6 1263.2,509.9 1287.9,497.6 1302.7,491.5 1317.5,487.8 1329.8,482.3 1349.5,473.0" fill="none" stroke="#ff0000" stroke-width="1" stroke-dasharray="3,3" shape-rendering="crispEdges"/>
<g shape-rendering="crispEdges">
<line x1="0" y1="634.5" x2="1583" y2="634.5" stroke="#c0c0c0" stroke-width="1" stroke-dasharray="3,3" stroke-dashoffset="2"/>
<line x1="0" y1="678.5" x2="1583" y2="678.5" stroke="#c0c0c0" stroke-width="1" stroke-dasharray="3,3" stroke-dashoffset="2"/>
<line x1="0" y1="730.5" x2="1583" y2="730.5" stroke="#c0c0c0" stroke-width="1" stroke-dasharray="3,3" stroke-dashoffset="2"/>
</g>
<polyline points="0,682.1 5.5,682.1 13.5,680.8 21.5,697.4 29.5,701.0 37.5,705.2 45.5,687.5 53.5,686.3 61.5,691.2 69.5,685.0 77.5,678.4 85.5,688.7 93.5,687.0 101.5,688.2 109.5,684.3 117.5,686.3 125.5,685.5 133.5,698.1 141.5,699.3 149.5,699.3 157.5,705.2 165.5,705.2 173.5,711.4 181.5,715.1 189.5,719.5 197.5,719.5 205.5,719.5 213.5,722.5 221.5,723.7 229.5,719.0 237.5,710.4 245.5,710.4 253.5,697.4 261.5,680.1 269.5,680.1 277.5,692.4 285.5,686.3 293.5,684.3 301.5,679.4 309.5,683.3 317.5,663.3 325.5,666.5 333.5,673.9 341.5,678.4 349.5,684.3 357.5,685.8 365.5,678.4 373.5,677.6 381.5,677.6 389.5,676.4 397.5,664.6 405.5,665.8 413.5,662.4 421.5,655.5 429.5,663.6 437.5,662.4 445.5,655.5 453.5,653.0 461.5,658.4 469.5,647.3 477.5,673.4 485.5,673.4 493.5,669.0 501.5,664.1 509.5,665.8 517.5,676.4 525.5,680.6 533.5,680.6 541.5,680.6 549.5,687.0 557.5,691.2 565.5,680.8 573.5,671.0 581.5,669.0 589.5,673.9 597.5,666.5 605.5,662.8 613.5,659.9 621.5,669.5 629.5,677.6 637.5,672.2 645.5,668.3 653.5,678.4 661.5,687.5 669.5,681.3 677.5,681.3 685.5,691.7 693.5,689.5 701.5,697.8 709.5,702.8 717.5,701.0 725.5,701.0 733.5,703.0 741.5,710.4 749.5,700.6 757.5,675.2 765.5,679.4 773.5,674.7 781.5,670.7 789.5,666.5 797.5,665.3 805.5,671.5 813.5,680.8 821.5,684.3 829.5,691.2 837.5,676.4 845.5,679.4 853.5,694.4 861.5,688.7 869.5,688.2 877.5,686.3 885.5,691.2 893.5,692.4 901.5,682.6 909.5,687.5 917.5,687.5 925.5,687.5 933.5,693.7 941.5,684.5 949.5,688.0 957.5,691.7 965.5,690.4 973.5,692.4 981.5,693.7 989.5,692.4 997.5,684.5 1005.5,687.5 1013.5,691.2 1021.5,704.3 1029.5,709.2 1037.5,692.4 1045.5,689.5 1053.5,695.6 1061.5,694.1 1069.5,690.4 1077.5,686.3 1085.5,688.2 1093.5,683.3 1101.5,687.0 1109.5,685.0 1117.5,680.6 1125.5,680.6 1133.5,685.5 1141.5,685.5 1149.5,678.4 1157.5,679.4 1165.5,672.0 1173.5,670.7 1181.5,698.6 1189.5,683.8 1197.5,673.2 1205.5,673.9 1213.5,669.5 1221.5,673.9 1229.5,669.5 1237.5,673.9 1245.5,666.5 1253.5,666.1 1261.5,664.6 1269.5,664.1 1277.5,662.4 1285.5,654.2 1293.5,669.0 1301.5,671.5 1309.5,668.5 1317.5,662.4 1325.5,653.0 1333.5,650.5 1341.5,646.3 1349.5,645.1" fill="none" stroke="#1e90ff" stroke-width="1" stroke-linejoin="round" shape-rendering="crispEdges"/>
<g shape-rendering="crispEdges">
<rect x="0" y="28" width="1584" height="1" fill="#000"/>
<rect x="1583" y="28" width="1" height="410" fill="#000"/>
<rect x="1583" y="439" width="1" height="163" fill="#000"/>
<rect x="1583" y="603" width="1" height="151" fill="#000"/>
<rect x="0" y="437" width="1584" height="1" fill="#000"/>
<rect x="0" y="439" width="1584" height="1" fill="#000"/>
<rect x="0" y="601" width="1584" height="1" fill="#000"/>
<rect x="0" y="603" width="1584" height="1" fill="#000"/>
<rect x="0" y="753" width="1584" height="1" fill="#000"/>
</g>
<g shape-rendering="crispEdges">
<rect x="1584" y="38" width="2" height="1" fill="#000"/>
<rect x="1584" y="71" width="2" height="1" fill="#000"/>
<rect x="1584" y="104" width="2" height="1" fill="#000"/>
<rect x="1584" y="137" width="2" height="1" fill="#000"/>
<rect x="1584" y="170" width="2" height="1" fill="#000"/>
<rect x="1584" y="203" width="2" height="1" fill="#000"/>
<rect x="1584" y="236" width="2" height="1" fill="#000"/>
<rect x="1584" y="269" width="2" height="1" fill="#000"/>
<rect x="1584" y="302" width="2" height="1" fill="#000"/>
<rect x="1584" y="335" width="2" height="1" fill="#000"/>
<rect x="1584" y="368" width="2" height="1" fill="#000"/>
<rect x="1584" y="401" width="2" height="1" fill="#000"/>
<rect x="1584" y="434" width="2" height="1" fill="#000"/>
<rect x="1584" y="517" width="2" height="1" fill="#000"/>
<rect x="1584" y="441" width="1" height="1" fill="#000"/>
<rect x="1584" y="605" width="1" height="1" fill="#000"/>
</g>
<text x="1589.5" y="42.5" font-size="10.2" fill="#000" textLength="32" lengthAdjust="spacingAndGlyphs" stroke="#000" stroke-width="0.15">1.33200</text>
<text x="1589.5" y="75.5" font-size="10.2" fill="#000" textLength="32" lengthAdjust="spacingAndGlyphs" stroke="#000" stroke-width="0.15">1.32480</text>
<text x="1589.5" y="108.5" font-size="10.2" fill="#000" textLength="32" lengthAdjust="spacingAndGlyphs" stroke="#000" stroke-width="0.15">1.31740</text>
<text x="1589.5" y="141.5" font-size="10.2" fill="#000" textLength="32" lengthAdjust="spacingAndGlyphs" stroke="#000" stroke-width="0.15">1.31000</text>
<text x="1589.5" y="174.5" font-size="10.2" fill="#000" textLength="32" lengthAdjust="spacingAndGlyphs" stroke="#000" stroke-width="0.15">1.30280</text>
<text x="1589.5" y="207.5" font-size="10.2" fill="#000" textLength="32" lengthAdjust="spacingAndGlyphs" stroke="#000" stroke-width="0.15">1.29540</text>
<text x="1589.5" y="240.5" font-size="10.2" fill="#000" textLength="32" lengthAdjust="spacingAndGlyphs" stroke="#000" stroke-width="0.15">1.28820</text>
<text x="1589.5" y="273.5" font-size="10.2" fill="#000" textLength="32" lengthAdjust="spacingAndGlyphs" stroke="#000" stroke-width="0.15">1.28080</text>
<text x="1589.5" y="306.5" font-size="10.2" fill="#000" textLength="32" lengthAdjust="spacingAndGlyphs" stroke="#000" stroke-width="0.15">1.27360</text>
<text x="1589.5" y="339.5" font-size="10.2" fill="#000" textLength="32" lengthAdjust="spacingAndGlyphs" stroke="#000" stroke-width="0.15">1.26620</text>
<text x="1589.5" y="372.5" font-size="10.2" fill="#000" textLength="32" lengthAdjust="spacingAndGlyphs" stroke="#000" stroke-width="0.15">1.25900</text>
<text x="1589.5" y="405.5" font-size="10.2" fill="#000" textLength="32" lengthAdjust="spacingAndGlyphs" stroke="#000" stroke-width="0.15">1.25160</text>
<text x="1589.5" y="438.5" font-size="10.2" fill="#000" textLength="32" lengthAdjust="spacingAndGlyphs" stroke="#000" stroke-width="0.15">1.24440</text>
<rect x="1585" y="55" width="38" height="11" fill="#ff4500" shape-rendering="crispEdges"/>
<text x="1589.5" y="64.3" font-size="10.2" fill="#fff" textLength="32" lengthAdjust="spacingAndGlyphs" stroke="#fff" stroke-width="0.15">1.32683</text>
<rect x="1585" y="68" width="38" height="11" fill="#ff4500" shape-rendering="crispEdges"/>
<text x="1589.5" y="77.3" font-size="10.2" fill="#fff" textLength="32" lengthAdjust="spacingAndGlyphs" stroke="#fff" stroke-width="0.15">1.32396</text>
<rect x="1585" y="84" width="38" height="11" fill="#000" shape-rendering="crispEdges"/>
<text x="1589.5" y="93.3" font-size="10.2" fill="#fff" textLength="32" lengthAdjust="spacingAndGlyphs" stroke="#fff" stroke-width="0.15">1.32071</text>
<rect x="1585" y="96" width="38" height="11" fill="#32cd32" shape-rendering="crispEdges"/>
<text x="1589.5" y="105.3" font-size="10.2" fill="#fff" textLength="32" lengthAdjust="spacingAndGlyphs" stroke="#fff" stroke-width="0.15">1.31778</text>
<rect x="1585" y="108" width="38" height="11" fill="#0000ff" shape-rendering="crispEdges"/>
<text x="1589.5" y="117.3" font-size="10.2" fill="#fff" textLength="32" lengthAdjust="spacingAndGlyphs" stroke="#fff" stroke-width="0.15">1.31513</text>
<rect x="1585" y="123" width="38" height="11" fill="#0000ff" shape-rendering="crispEdges"/>
<text x="1589.5" y="132.3" font-size="10.2" fill="#fff" textLength="32" lengthAdjust="spacingAndGlyphs" stroke="#fff" stroke-width="0.15">1.31182</text>
<text x="1587.5" y="449.4" font-size="10.2" fill="#000" textLength="37" lengthAdjust="spacingAndGlyphs" stroke="#000" stroke-width="0.15">0.012088</text>
<text x="1587.5" y="520.6" font-size="10.2" fill="#000" textLength="17.5" lengthAdjust="spacingAndGlyphs" stroke="#000" stroke-width="0.15">0.00</text>
<text x="1587.5" y="597.8" font-size="10.2" fill="#000" textLength="41" lengthAdjust="spacingAndGlyphs" stroke="#000" stroke-width="0.15">-0.013175</text>
<text x="1587.5" y="613.7" font-size="10.2" fill="#000" textLength="14.5" lengthAdjust="spacingAndGlyphs" stroke="#000" stroke-width="0.15">100</text>
<text x="1585.8" y="637.6" font-size="10.2" fill="#000" textLength="10" lengthAdjust="spacingAndGlyphs" stroke="#000" stroke-width="0.15">80</text>
<text x="1585.8" y="681.6" font-size="10.2" fill="#000" textLength="10" lengthAdjust="spacingAndGlyphs" stroke="#000" stroke-width="0.15">50</text>
<text x="1586.5" y="733.5" font-size="10.2" fill="#000" textLength="10" lengthAdjust="spacingAndGlyphs" stroke="#000" stroke-width="0.15">15</text>
<text x="1587" y="749.4" font-size="10.2" fill="#000" stroke="#000" stroke-width="0.15">0</text>
<text x="1.5" y="451.8" font-size="10.2" fill="#000" textLength="147.5" lengthAdjust="spacingAndGlyphs" stroke="#000" stroke-width="0.15">MACD(12,26,9) 0.010939 0.007066</text>
<text x="1.5" y="616" font-size="10.2" fill="#000" textLength="67.5" lengthAdjust="spacingAndGlyphs" stroke="#000" stroke-width="0.15">RSI(14) 72.3385</text>
<g shape-rendering="crispEdges">
<rect x="61" y="754" width="1" height="3" fill="#000"/>
<rect x="125" y="754" width="1" height="3" fill="#000"/>
<rect x="189" y="754" width="1" height="3" fill="#000"/>
<rect x="253" y="754" width="1" height="3" fill="#000"/>
<rect x="317" y="754" width="1" height="3" fill="#000"/>
<rect x="381" y="754" width="1" height="3" fill="#000"/>
<rect x="445" y="754" width="1" height="3" fill="#000"/>
<rect x="509" y="754" width="1" height="3" fill="#000"/>
<rect x="573" y="754" width="1" height="3" fill="#000"/>
<rect x="637" y="754" width="1" height="3" fill="#000"/>
<rect x="701" y="754" width="1" height="3" fill="#000"/>
<rect x="765" y="754" width="1" height="3" fill="#000"/>
<rect x="829" y="754" width="1" height="3" fill="#000"/>
<rect x="893" y="754" width="1" height="3" fill="#000"/>
<rect x="957" y="754" width="1" height="3" fill="#000"/>
<rect x="1021" y="754" width="1" height="3" fill="#000"/>
<rect x="1085" y="754" width="1" height="3" fill="#000"/>
<rect x="1149" y="754" width="1" height="3" fill="#000"/>
<rect x="1213" y="754" width="1" height="3" fill="#000"/>
<rect x="1277" y="754" width="1" height="3" fill="#000"/>
<rect x="1341" y="754" width="1" height="3" fill="#000"/>
</g>
<text x="-3.5" y="765.9" font-size="10.2" fill="#000" textLength="46.8" lengthAdjust="spacingAndGlyphs" stroke="#000" stroke-width="0.15">13 Jul 2018</text>
<text x="60.5" y="765.9" font-size="10.2" fill="#000" textLength="46.8" lengthAdjust="spacingAndGlyphs" stroke="#000" stroke-width="0.15">23 Jul 2018</text>
<text x="124.5" y="765.9" font-size="10.2" fill="#000" textLength="46.6" lengthAdjust="spacingAndGlyphs" stroke="#000" stroke-width="0.15">1 Aug 2018</text>
<text x="188.5" y="765.9" font-size="10.2" fill="#000" textLength="51.8" lengthAdjust="spacingAndGlyphs" stroke="#000" stroke-width="0.15">10 Aug 2018</text>
<text x="252.5" y="765.9" font-size="10.2" fill="#000" textLength="52.5" lengthAdjust="spacingAndGlyphs" stroke="#000" stroke-width="0.15">20 Aug 2018</text>
<text x="316.5" y="765.9" font-size="10.2" fill="#000" textLength="52.2" lengthAdjust="spacingAndGlyphs" stroke="#000" stroke-width="0.15">29 Aug 2018</text>
<text x="380.5" y="765.9" font-size="10.2" fill="#000" textLength="46.5" lengthAdjust="spacingAndGlyphs" stroke="#000" stroke-width="0.15">7 Sep 2018</text>
<text x="444.5" y="765.9" font-size="10.2" fill="#000" textLength="51.8" lengthAdjust="spacingAndGlyphs" stroke="#000" stroke-width="0.15">17 Sep 2018</text>
<text x="508.5" y="765.9" font-size="10.2" fill="#000" textLength="51.8" lengthAdjust="spacingAndGlyphs" stroke="#000" stroke-width="0.15">26 Sep 2018</text>
<text x="572.5" y="765.9" font-size="10.2" fill="#000" textLength="44.9" lengthAdjust="spacingAndGlyphs" stroke="#000" stroke-width="0.15">5 Oct 2018</text>
<text x="636.5" y="765.9" font-size="10.2" fill="#000" textLength="50.5" lengthAdjust="spacingAndGlyphs" stroke="#000" stroke-width="0.15">15 Oct 2018</text>
<text x="700.5" y="765.9" font-size="10.2" fill="#000" textLength="50" lengthAdjust="spacingAndGlyphs" stroke="#000" stroke-width="0.15">24 Oct 2018</text>
<text x="764.5" y="765.9" font-size="10.2" fill="#000" textLength="47.6" lengthAdjust="spacingAndGlyphs" stroke="#000" stroke-width="0.15">2 Nov 2018</text>
<text x="828.5" y="765.9" font-size="10.2" fill="#000" textLength="52.5" lengthAdjust="spacingAndGlyphs" stroke="#000" stroke-width="0.15">12 Nov 2018</text>
<text x="892.5" y="765.9" font-size="10.2" fill="#000" textLength="52.7" lengthAdjust="spacingAndGlyphs" stroke="#000" stroke-width="0.15">21 Nov 2018</text>
<text x="956.5" y="765.9" font-size="10.2" fill="#000" textLength="53" lengthAdjust="spacingAndGlyphs" stroke="#000" stroke-width="0.15">30 Nov 2018</text>
<text x="1020.5" y="765.9" font-size="10.2" fill="#000" textLength="50.5" lengthAdjust="spacingAndGlyphs" stroke="#000" stroke-width="0.15">10 Dec 2018</text>
<text x="1084.5" y="765.9" font-size="10.2" fill="#000" textLength="50.5" lengthAdjust="spacingAndGlyphs" stroke="#000" stroke-width="0.15">19 Dec 2018</text>
<text x="1148.5" y="765.9" font-size="10.2" fill="#000" textLength="51" lengthAdjust="spacingAndGlyphs" stroke="#000" stroke-width="0.15">28 Dec 2018</text>
<text x="1212.5" y="765.9" font-size="10.2" fill="#000" textLength="44.4" lengthAdjust="spacingAndGlyphs" stroke="#000" stroke-width="0.15">7 Jan 2019</text>
<text x="1276.5" y="765.9" font-size="10.2" fill="#000" textLength="49.8" lengthAdjust="spacingAndGlyphs" stroke="#000" stroke-width="0.15">16 Jan 2019</text>
<text x="1340.5" y="765.9" font-size="10.2" fill="#000" textLength="49.3" lengthAdjust="spacingAndGlyphs" stroke="#000" stroke-width="0.15">25 Jan 2019</text>
<polygon points="0,39 6.5,39 3.25,35" fill="#000"/>
<text x="12.5" y="40.4" font-size="10.2" fill="#000" textLength="213" lengthAdjust="spacingAndGlyphs" stroke="#000" stroke-width="0.15">GBPUSD-,Daily&#160;&#160;1.32075 1.32092 1.32056 1.32071</text>
<defs>
<linearGradient id="gb" x1="0" y1="0" x2="0" y2="1"><stop offset="0" stop-color="#f65050"/><stop offset="1" stop-color="#d42424"/></linearGradient>
<linearGradient id="gp" x1="0" y1="0" x2="0" y2="1"><stop offset="0" stop-color="#d62626"/><stop offset="0.75" stop-color="#b80c0c"/><stop offset="1" stop-color="#ad0606"/></linearGradient>
<linearGradient id="gg" x1="0" y1="0" x2="0" y2="1"><stop offset="0" stop-color="#f4f4f4"/><stop offset="1" stop-color="#dcdcdc"/></linearGradient>
</defs>
<g shape-rendering="crispEdges">
<rect x="0" y="46" width="221" height="68" fill="#fff"/>
<rect x="0" y="48" width="52" height="25" fill="url(#gb)"/>
<rect x="167" y="48" width="52" height="25" fill="url(#gb)"/>
<rect x="0" y="72" width="109" height="40" fill="url(#gp)"/>
<rect x="111" y="72" width="108" height="40" fill="url(#gp)"/>
<rect x="4" y="71" width="44" height="1" fill="#8c0c0c"/>
<rect x="4" y="72" width="44" height="1" fill="#e45858"/>
<rect x="171" y="71" width="44" height="1" fill="#8c0c0c"/>
<rect x="171" y="72" width="44" height="1" fill="#e45858"/>
<rect x="0" y="48" width="52" height="1" fill="#c42222"/>
<rect x="0" y="48" width="1" height="24" fill="#c42222"/>
<rect x="51" y="48" width="1" height="24" fill="#c42222"/>
<rect x="167" y="48" width="52" height="1" fill="#c42222"/>
<rect x="167" y="48" width="1" height="24" fill="#c42222"/>
<rect x="218" y="48" width="1" height="24" fill="#c42222"/>
<rect x="0" y="72" width="1" height="40" fill="#b01414"/>
<rect x="218" y="72" width="1" height="40" fill="#b01414"/>
<rect x="0" y="111" width="109" height="1" fill="#a00808"/>
<rect x="111" y="111" width="108" height="1" fill="#a00808"/>
<rect x="54" y="48" width="111" height="22" fill="#a8a8a8"/>
<rect x="55" y="49" width="20" height="20" fill="url(#gg)"/>
<rect x="76" y="49" width="67" height="20" fill="#fff"/>
<rect x="144" y="49" width="20" height="20" fill="url(#gg)"/>
</g>
<polygon points="62.5,57 68,57 65.25,60.3" fill="#000"/>
<polygon points="151,60.3 157,60.3 154,57" fill="#000"/>
<text x="12.5" y="63.7" font-size="12.2" fill="#fff" textLength="25" lengthAdjust="spacingAndGlyphs">SELL</text>
<text x="180.7" y="63.7" font-size="12.2" fill="#fff" textLength="23" lengthAdjust="spacingAndGlyphs">BUY</text>
<text x="139.8" y="62.9" font-size="12" fill="#101830" text-anchor="end" textLength="23.5" lengthAdjust="spacingAndGlyphs">0.10</text>
<text x="20.6" y="102.9" font-size="12.2" fill="#fff" textLength="23.6" lengthAdjust="spacingAndGlyphs" font-weight="bold">1.32</text>
<text x="47.3" y="103.4" font-size="34" fill="#fff" textLength="36.4" lengthAdjust="spacingAndGlyphs">07</text>
<text x="86.6" y="87" font-size="12.4" fill="#fff" font-weight="bold">1</text>
<text x="130.3" y="102.9" font-size="12.2" fill="#fff" textLength="23.6" lengthAdjust="spacingAndGlyphs" font-weight="bold">1.32</text>
<text x="157.8" y="103.4" font-size="34" fill="#fff" textLength="36.8" lengthAdjust="spacingAndGlyphs">09</text>
<text x="197.6" y="87" font-size="12.4" fill="#fff" font-weight="bold">9</text>
<defs><pattern id="chk" width="2" height="2" patternUnits="userSpaceOnUse"><rect width="2" height="2" fill="#f0f0f0"/><rect width="1" height="1" fill="#fff"/><rect x="1" y="1" width="1" height="1" fill="#fff"/></pattern></defs>
<g shape-rendering="crispEdges">
<rect x="0" y="0" width="1623" height="24" fill="#f0f0f0"/>
<rect x="0" y="24" width="1623" height="1" fill="#a0a0a0"/>
<rect x="0" y="25" width="1623" height="1" fill="#696969"/>
<rect x="0" y="26" width="1623" height="2" fill="#fff"/>
<rect x="275" y="1" width="1" height="21" fill="#a0a0a0"/>
<rect x="365" y="1" width="1" height="21" fill="#a0a0a0"/>
<rect x="427" y="1" width="1" height="21" fill="#a0a0a0"/>
<rect x="615" y="1" width="1" height="21" fill="#a0a0a0"/>
<rect x="180" y="0" width="1" height="24" fill="#a0a0a0"/>
<rect x="181" y="0" width="1" height="24" fill="#fff"/>
<rect x="548" y="0" width="1" height="24" fill="#a0a0a0"/>
<rect x="549" y="0" width="1" height="24" fill="#fff"/>
<rect x="854" y="0" width="1" height="24" fill="#a0a0a0"/>
<rect x="855" y="0" width="1" height="24" fill="#fff"/>
<rect x="1115" y="0" width="1" height="24" fill="#a0a0a0"/>
<rect x="1116" y="0" width="1" height="24" fill="#fff"/>
<rect x="184" y="2" width="3" height="1" fill="#b4b4b4"/>
<rect x="184" y="4" width="3" height="1" fill="#b4b4b4"/>
<rect x="184" y="6" width="3" height="1" fill="#b4b4b4"/>
<rect x="184" y="8" width="3" height="1" fill="#b4b4b4"/>
<rect x="184" y="10" width="3" height="1" fill="#b4b4b4"/>
<rect x="184" y="12" width="3" height="1" fill="#b4b4b4"/>
<rect x="184" y="14" width="3" height="1" fill="#b4b4b4"/>
<rect x="184" y="16" width="3" height="1" fill="#b4b4b4"/>
<rect x="184" y="18" width="3" height="1" fill="#b4b4b4"/>
<rect x="184" y="20" width="3" height="1" fill="#b4b4b4"/>
<rect x="552" y="2" width="3" height="1" fill="#b4b4b4"/>
<rect x="552" y="4" width="3" height="1" fill="#b4b4b4"/>
<rect x="552" y="6" width="3" height="1" fill="#b4b4b4"/>
<rect x="552" y="8" width="3" height="1" fill="#b4b4b4"/>
<rect x="552" y="10" width="3" height="1" fill="#b4b4b4"/>
<rect x="552" y="12" width="3" height="1" fill="#b4b4b4"/>
<rect x="552" y="14" width="3" height="1" fill="#b4b4b4"/>
<rect x="552" y="16" width="3" height="1" fill="#b4b4b4"/>
<rect x="552" y="18" width="3" height="1" fill="#b4b4b4"/>
<rect x="552" y="20" width="3" height="1" fill="#b4b4b4"/>
<rect x="858" y="2" width="3" height="1" fill="#b4b4b4"/>
<rect x="858" y="4" width="3" height="1" fill="#b4b4b4"/>
<rect x="858" y="6" width="3" height="1" fill="#b4b4b4"/>
<rect x="858" y="8" width="3" height="1" fill="#b4b4b4"/>
<rect x="858" y="10" width="3" height="1" fill="#b4b4b4"/>
<rect x="858" y="12" width="3" height="1" fill="#b4b4b4"/>
<rect x="858" y="14" width="3" height="1" fill="#b4b4b4"/>
<rect x="858" y="16" width="3" height="1" fill="#b4b4b4"/>
<rect x="858" y="18" width="3" height="1" fill="#b4b4b4"/>
<rect x="858" y="20" width="3" height="1" fill="#b4b4b4"/>
<rect x="218" y="0" width="26" height="23" fill="url(#chk)"/>
<rect x="218" y="0" width="26" height="1" fill="#a0a0a0"/>
<rect x="218" y="0" width="1" height="23" fill="#a0a0a0"/>
<rect x="218" y="22" width="26" height="1" fill="#fff"/>
<rect x="243" y="0" width="1" height="23" fill="#fff"/>
<rect x="370" y="0" width="26" height="23" fill="url(#chk)"/>
<rect x="370" y="0" width="26" height="1" fill="#a0a0a0"/>
<rect x="370" y="0" width="1" height="23" fill="#a0a0a0"/>
<rect x="370" y="22" width="26" height="1" fill="#fff"/>
<rect x="395" y="0" width="1" height="23" fill="#fff"/>
<rect x="398" y="0" width="26" height="23" fill="url(#chk)"/>
<rect x="398" y="0" width="26" height="1" fill="#a0a0a0"/>
<rect x="398" y="0" width="1" height="23" fill="#a0a0a0"/>
<rect x="398" y="22" width="26" height="1" fill="#fff"/>
<rect x="423" y="0" width="1" height="23" fill="#fff"/>
<rect x="558" y="0" width="26" height="23" fill="url(#chk)"/>
<rect x="558" y="0" width="26" height="1" fill="#a0a0a0"/>
<rect x="558" y="0" width="1" height="23" fill="#a0a0a0"/>
<rect x="558" y="22" width="26" height="1" fill="#fff"/>
<rect x="583" y="0" width="1" height="23" fill="#fff"/>
<rect x="1032" y="0" width="26" height="23" fill="url(#chk)"/>
<rect x="1032" y="0" width="26" height="1" fill="#a0a0a0"/>
<rect x="1032" y="0" width="1" height="23" fill="#a0a0a0"/>
<rect x="1032" y="22" width="26" height="1" fill="#fff"/>
<rect x="1057" y="0" width="1" height="23" fill="#fff"/>
</g>
<text x="-4.2" y="15" font-size="12.2" fill="#000">单</text>
<text x="125.6" y="14.9" font-size="12" fill="#000" textLength="47.5" lengthAdjust="spacingAndGlyphs">自动交易</text>
<text x="869.5" y="16" font-size="10.3" fill="#505050" textLength="13" lengthAdjust="spacingAndGlyphs">M1</text>
<text x="897.5" y="16" font-size="10.3" fill="#505050" textLength="13" lengthAdjust="spacingAndGlyphs">M5</text>
<text x="923.5" y="16" font-size="10.3" fill="#505050" textLength="18" lengthAdjust="spacingAndGlyphs">M15</text>
<text x="951.5" y="16" font-size="10.3" fill="#505050" textLength="18" lengthAdjust="spacingAndGlyphs">M30</text>
<text x="982.5" y="16" font-size="10.3" fill="#505050" textLength="12" lengthAdjust="spacingAndGlyphs">H1</text>
<text x="1009.5" y="16" font-size="10.3" fill="#505050" textLength="12.5" lengthAdjust="spacingAndGlyphs">H4</text>
<text x="1038.5" y="16" font-size="10.3" fill="#505050" textLength="12" lengthAdjust="spacingAndGlyphs">D1</text>
<text x="1065.5" y="16" font-size="10.3" fill="#505050" textLength="14.5" lengthAdjust="spacingAndGlyphs">W1</text>
<text x="1092.5" y="16" font-size="10.3" fill="#505050" textLength="15" lengthAdjust="spacingAndGlyphs">MN</text>
<g stroke="#505050" stroke-width="1" fill="none" shape-rendering="crispEdges"><line x1="198.5" y1="7" x2="198.5" y2="20"/><line x1="196" y1="17.5" x2="209" y2="17.5"/></g><polygon points="196.5,9 198.5,5.5 200.5,9" fill="#505050"/><polygon points="207,15.5 210.5,17.5 207,19.5" fill="#505050"/>
<path d="M204.5 7.2v8.6M204.5 8.5h2.5M202 14.5h2.5" stroke="#0e8a0e" stroke-width="1.3" fill="none"/>
<g stroke="#505050" stroke-width="1" fill="none" shape-rendering="crispEdges"><line x1="226.5" y1="7" x2="226.5" y2="20"/><line x1="224" y1="17.5" x2="237" y2="17.5"/></g><polygon points="224.5,9 226.5,5.5 228.5,9" fill="#505050"/><polygon points="235,15.5 238.5,17.5 235,19.5" fill="#505050"/>
<line x1="232.5" y1="4" x2="232.5" y2="16" stroke="#1a7a1a" stroke-width="1"/><rect x="230.5" y="6.5" width="4" height="7" fill="#2ee02e" stroke="#1a7a1a" stroke-width="1"/>
<g stroke="#505050" stroke-width="1" fill="none" shape-rendering="crispEdges"><line x1="254.5" y1="7" x2="254.5" y2="20"/><line x1="252" y1="17.5" x2="265" y2="17.5"/></g><polygon points="252.5,9 254.5,5.5 256.5,9" fill="#505050"/><polygon points="263,15.5 266.5,17.5 263,19.5" fill="#505050"/>
<path d="M253.5 15 C256 11 258 8.5 259.5 9 S263 12 265 13.5" stroke="#2a9a2a" stroke-width="1.3" fill="none"/>
<defs><radialGradient id="ln" cx="0.5" cy="0.65" r="0.6"><stop offset="0" stop-color="#f4fcff"/><stop offset="1" stop-color="#bfe4f6"/></radialGradient></defs>
<line x1="293.8" y1="14.100000000000001" x2="298.7" y2="18.6" stroke="#a87c08" stroke-width="3.5" stroke-linecap="butt"/><line x1="293.8" y1="14.100000000000001" x2="298.3" y2="18.200000000000003" stroke="#f2d648" stroke-width="2" stroke-linecap="butt"/><circle cx="290" cy="9.9" r="5.4" fill="url(#ln)" stroke="#3a80c8" stroke-width="1.2"/><line x1="286.7" y1="9.9" x2="293.3" y2="9.9" stroke="#4a86b4" stroke-width="1.9"/><line x1="290" y1="6.6000000000000005" x2="290" y2="13.2" stroke="#4a86b4" stroke-width="1.9"/>
<line x1="321.8" y1="14.100000000000001" x2="326.7" y2="18.6" stroke="#a87c08" stroke-width="3.5" stroke-linecap="butt"/><line x1="321.8" y1="14.100000000000001" x2="326.3" y2="18.200000000000003" stroke="#f2d648" stroke-width="2" stroke-linecap="butt"/><circle cx="318" cy="9.9" r="5.4" fill="url(#ln)" stroke="#3a80c8" stroke-width="1.2"/><line x1="314.7" y1="9.9" x2="321.3" y2="9.9" stroke="#4a86b4" stroke-width="1.9"/>
<defs><linearGradient id="tg" x1="0" y1="0" x2="0" y2="1"><stop offset="0" stop-color="#2e8a12"/><stop offset="1" stop-color="#46a824"/></linearGradient><linearGradient id="tb" x1="0" y1="0" x2="0" y2="1"><stop offset="0" stop-color="#0c38b0"/><stop offset="1" stop-color="#2a62dc"/></linearGradient></defs>
<rect x="340" y="4" width="8" height="8" fill="url(#tg)"/><rect x="341.1" y="7.2" width="6" height="3.2" fill="#fff"/><rect x="341.1" y="10.2" width="1.6" height="1" fill="#fff"/><rect x="345.5" y="10.2" width="1.6" height="1" fill="#fff"/><rect x="342.2" y="8.3" width="3.8" height="1" fill="#a8d890"/><rect x="341.3" y="5.3" width="0.9" height="0.9" fill="#eef8e8"/><rect x="348" y="4" width="8" height="8" fill="url(#tb)"/><rect x="349.1" y="7.2" width="6" height="3.2" fill="#fff"/><rect x="349.1" y="10.2" width="1.6" height="1" fill="#fff"/><rect x="353.5" y="10.2" width="1.6" height="1" fill="#fff"/><rect x="350.2" y="8.3" width="3.8" height="1" fill="#a0b8f0"/><rect x="349.3" y="5.3" width="0.9" height="0.9" fill="#eef8e8"/><rect x="340" y="12" width="8" height="8" fill="url(#tb)"/><rect x="341.1" y="15.2" width="6" height="3.2" fill="#fff"/><rect x="341.1" y="18.2" width="1.6" height="1" fill="#fff"/><rect x="345.5" y="18.2" width="1.6" height="1" fill="#fff"/><rect x="342.2" y="16.3" width="3.8" height="1" fill="#a0b8f0"/><rect x="341.3" y="13.3" width="0.9" height="0.9" fill="#eef8e8"/><rect x="348" y="12" width="8" height="8" fill="url(#tg)"/><rect x="349.1" y="15.2" width="6" height="3.2" fill="#fff"/><rect x="349.1" y="18.2" width="1.6" height="1" fill="#fff"/><rect x="353.5" y="18.2" width="1.6" height="1" fill="#fff"/><rect x="350.2" y="16.3" width="3.8" height="1" fill="#a8d890"/><rect x="349.3" y="13.3" width="0.9" height="0.9" fill="#eef8e8"/>
<g stroke="#505050" stroke-width="1" fill="none" shape-rendering="crispEdges"><line x1="378.5" y1="7" x2="378.5" y2="20"/><line x1="376" y1="17.5" x2="389" y2="17.5"/></g><polygon points="376.5,9 378.5,5.5 380.5,9" fill="#505050"/><polygon points="387,15.5 390.5,17.5 387,19.5" fill="#505050"/>
<polygon points="383.4,8.8 383.4,14.8 387.6,11.8" fill="#7fe07f" stroke="#1a8a1a" stroke-width="1"/>
<g stroke="#505050" stroke-width="1" fill="none" shape-rendering="crispEdges"><line x1="406.5" y1="7" x2="406.5" y2="20"/><line x1="404" y1="17.5" x2="417" y2="17.5"/></g><polygon points="404.5,9 406.5,5.5 408.5,9" fill="#505050"/><polygon points="415,15.5 418.5,17.5 415,19.5" fill="#505050"/>
<line x1="412.5" y1="6" x2="412.5" y2="16" stroke="#2060a0" stroke-width="1.2"/><path d="M418 11.5h-4M416 9.5l-2.2 2 2.2 2z" stroke="#d04010" stroke-width="1" fill="#d04010"/>
<path d="M437.5 5h7.5l3.5 3.5v9h-11z" fill="#fbfbfb" stroke="#787878" stroke-width="1"/><path d="M445 5v3.5h3.5" fill="#e8e8e8" stroke="#787878" stroke-width="0.8"/><path d="M442 7.8c-1.3 0-1.3 .5-1.3 1.7s-.2 1.6-1 1.7c.8 .1 1 .5 1 1.7s0 1.7 1.3 1.7" stroke="#383838" stroke-width="1" fill="none"/><path d="M445.5 10.5h3.6v3.4h3.4v3.6h-3.4v3.4h-3.6v-3.4h-3.4v-3.6h3.4z" fill="#3ae03a" stroke="#0a8a0a" stroke-width="1"/>
<polygon points="458.8,11.2 464.6,11.2 461.7,14.3" fill="#000"/>
<polygon points="497.8,11.2 503.6,11.2 500.7,14.3" fill="#000"/>
<polygon points="536.8,11.2 542.6,11.2 539.7,14.3" fill="#000"/>
<polygon points="842.8,11.2 848.6,11.2 845.7,14.3" fill="#000"/>
<defs><linearGradient id="ck" x1="0.15" y1="0.1" x2="0.85" y2="0.9"><stop offset="0" stop-color="#48a0f0"/><stop offset="1" stop-color="#0a3cae"/></linearGradient></defs>
<circle cx="483" cy="11.9" r="6.6" fill="#eef0f4" stroke="url(#ck)" stroke-width="2.3"/><circle cx="483" cy="11.9" r="4.6" fill="none" stroke="#b8bcc8" stroke-width="0.7" stroke-dasharray="0.7,1.7"/><path d="M482.7 8.6v3.6h3.2" stroke="#303438" stroke-width="1.4" fill="none"/>
<rect x="514.5" y="5.5" width="15" height="13" fill="#fdfdfd" stroke="#4a78c4" stroke-width="1"/><rect x="515" y="6" width="14" height="2" fill="#9cc2f0"/><line x1="515" y1="12.5" x2="529" y2="12.5" stroke="#5a86cc" stroke-width="0.9"/><path d="M516 11l3-1.2 2 .5 3-1.5 2 .6 2.5-1.2" stroke="#b03010" stroke-width="1.2" fill="none"/><path d="M516 16.2l3-1.2 2 1 3-2 2 1.6 2.3-.6" stroke="#1a9a2a" stroke-width="1.2" fill="none"/>
<path d="M565.5 5v12.2l3-2.6 2.3 4.6 2-1-2.3-4.4h4z" fill="#484848"/>
<g stroke="#505050" stroke-width="1" shape-rendering="crispEdges"><line x1="598.5" y1="5" x2="598.5" y2="11"/><line x1="598.5" y1="14" x2="598.5" y2="20"/><line x1="591" y1="12.5" x2="597" y2="12.5"/><line x1="600" y1="12.5" x2="606" y2="12.5"/></g>
<g stroke="#505050" stroke-width="1" shape-rendering="crispEdges"><line x1="632.5" y1="6" x2="632.5" y2="19"/><line x1="655" y1="12.5" x2="667" y2="12.5"/></g>
<line x1="683" y1="19" x2="695" y2="7" stroke="#505050" stroke-width="1.1"/>
<g stroke="#404040" fill="none"><line x1="708.5" y1="13.7" x2="717" y2="5.9" stroke-width="0.9"/><line x1="714" y1="18.9" x2="722.9" y2="10.4" stroke-width="0.9"/><g stroke-width="1.1"><line x1="711.3" y1="18.5" x2="712.3" y2="11"/><line x1="714.4" y1="15.4" x2="717.4" y2="8.4"/><line x1="720.7" y1="11" x2="720.5" y2="4"/></g></g>
<text x="719.8" y="20.9" font-size="6.8" font-weight="bold" fill="#383838">E</text>
<g stroke="#505050" stroke-width="1" stroke-dasharray="1,1" shape-rendering="crispEdges"><line x1="738" y1="5.5" x2="752" y2="5.5"/><line x1="738" y1="8.5" x2="752" y2="8.5"/><line x1="738" y1="12.5" x2="752" y2="12.5"/><line x1="738" y1="16.5" x2="748" y2="16.5"/></g>
<text x="748" y="20.6" font-size="6.8" font-weight="bold" fill="#404040">F</text>
<text x="768.3" y="16.6" font-size="12" font-weight="bold" fill="#585858">A</text>
<rect x="795.5" y="5.5" width="11" height="13" fill="none" stroke="#505050" stroke-width="1" stroke-dasharray="1,1" shape-rendering="crispEdges"/><text x="797.3" y="16.6" font-size="11.5" font-weight="bold" fill="#505050">T</text>
<path d="M826 5.5l3 3-3 3-3-3z" fill="#404040"/><path d="M832.5 12.5l3 3-3 3-3-3z" fill="#404040"/><path d="M823.5 12.5l2.2 2.5 4.2-5" stroke="#404040" stroke-width="1.3" fill="none"/>
<defs>
<linearGradient id="bk" x1="0.2" y1="0" x2="0.8" y2="1"><stop offset="0" stop-color="#ffe24a"/><stop offset="0.55" stop-color="#eab820"/><stop offset="1" stop-color="#b87810"/></linearGradient>
<linearGradient id="bx" x1="0" y1="0" x2="1" y2="0"><stop offset="0" stop-color="#1a8cff"/><stop offset="0.3" stop-color="#7cc4ff"/><stop offset="0.35" stop-color="#2a94ff"/><stop offset="1" stop-color="#1478e8"/></linearGradient>
<linearGradient id="cl" x1="0" y1="0" x2="0" y2="1"><stop offset="0" stop-color="#ffffff"/><stop offset="1" stop-color="#c4d2ea"/></linearGradient>
<linearGradient id="fn" x1="0" y1="0" x2="1" y2="1"><stop offset="0" stop-color="#fff06a"/><stop offset="1" stop-color="#e8b020"/></linearGradient>
<radialGradient id="gs" cx="0.5" cy="0.5" r="0.5"><stop offset="0.2" stop-color="#2aa82a" stop-opacity="0.15"/><stop offset="1" stop-color="#2aa82a" stop-opacity="0.75"/></radialGradient>
</defs>
<path d="M26.6 4.9c3.5 2 6.5 4.2 9.9 6.7l-.4 1.8-6.8 6.5-8.4-5.6 1.2-1.5z" fill="#9a6408"/><path d="M26.7 4.8c3.4 1.9 6.4 4 9.6 6.5l-7.3 6.7-7.8-4.9c2.6-2.3 4.3-5 5.5-8.3z" fill="url(#bk)"/><path d="M21.4 13.6l7.6 4.8 7-6.5" fill="none" stroke="#fbe9a0" stroke-width="0.6" opacity="0.8"/><path d="M22 15l7.2 4.3 6.8-6.2" fill="none" stroke="#e0a820" stroke-width="0.7"/><path d="M26.9 5.6c-1.1 2.8-2.5 5-4.5 7" fill="none" stroke="#fff3b0" stroke-width="0.8" opacity="0.7"/>
<path d="M51 5.5l3.5-1.7 8 .6v9.5h-11.5z" fill="url(#bx)"/><rect x="56" y="7.2" width="5.5" height="2.6" fill="#d4ecff"/><rect x="57" y="8.2" width="3.5" height="0.8" fill="#2a7ad8"/><path d="M52.5 19.3c-4 0-4-4.6-.3-4.6 .6-2.8 4.8-3.4 6-.9 1.6-1.6 4.8-.5 4.3 1.6 3.3-.1 3.3 3.9 0 3.9z" fill="url(#cl)" stroke="#5674ac" stroke-width="0.9"/>
<path d="M85.2 12v7.8a7.8 7.8 0 0 0 7.8-7.8a7.8 7.8 0 0 0-3-6.1z" fill="url(#gs)"/><g fill="none"><circle cx="85.2" cy="12" r="7.5" stroke="#a8c0e4" stroke-width="1" stroke-dasharray="30 17.1" transform="rotate(95 85.2 12)"/><circle cx="85.2" cy="12" r="5.3" stroke="#5a86d0" stroke-width="1.1" stroke-dasharray="20 13.3" transform="rotate(100 85.2 12)"/><circle cx="85.2" cy="12" r="3.2" stroke="#7aa0dc" stroke-width="1" stroke-dasharray="12 8.1" transform="rotate(100 85.2 12)"/></g><path d="M85.4 12v7.7" stroke="#18a018" stroke-width="1.5"/><circle cx="85.2" cy="11.7" r="1.6" fill="#1e54c8"/>
<path d="M105 10.5l6 9h3l6.5-9z" fill="url(#fn)" stroke="#c8a020" stroke-width="0.6"/><ellipse cx="112" cy="8.8" rx="7.8" ry="2.7" fill="#4a9ad8" stroke="#2a70b0" stroke-width="0.8"/><path d="M107.8 8.3c-.3-5.3 8.7-5.3 8.4 0-2 1.2-6.4 1.2-8.4 0z" fill="#78bcf0" stroke="#2a78b8" stroke-width="0.8"/><circle cx="116.3" cy="15.7" r="4.1" fill="#dc2810" stroke="#a81808" stroke-width="0.8"/><rect x="114.7" y="14.1" width="3.2" height="3.2" fill="#fff"/>
<circle cx="1585.5" cy="9.5" r="4" fill="#f4f8ff" stroke="#1c50d0" stroke-width="1.5"/><line x1="1582.5" y1="12.5" x2="1577.5" y2="17" stroke="#1c50d0" stroke-width="2.6" stroke-linecap="round"/>
<g stroke="#a0a0a8" stroke-width="0.9"><path d="M1612 9a6 4.8 0 1 1 9 4.5l.8 2.5-3.3-1.7a6 4.8 0 0 1-6.5-5.3z" fill="#e6e6ec"/><path d="M1604.5 13.5a4.8 3.8 0 1 1 3.8 3.8l-1.8 2 .1-2.5a4.8 3.8 0 0 1-2.1-3.3z" fill="#f0f0f4"/></g>
</svg></body></html>
